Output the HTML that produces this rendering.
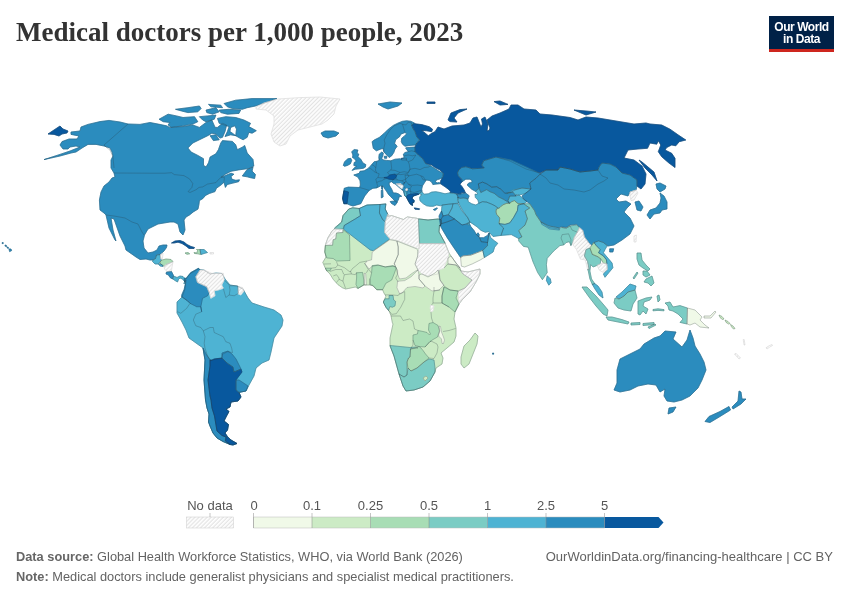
<!DOCTYPE html>
<html lang="en"><head><meta charset="utf-8"><title>Medical doctors per 1,000 people, 2023</title>
<style>
html,body{margin:0;padding:0;background:#fff;}
body{width:850px;height:600px;position:relative;overflow:hidden;font-family:"Liberation Sans",sans-serif;color:#5b5b5b;}
.title{position:absolute;left:16px;top:16px;margin:0;font-family:"Liberation Serif",serif;font-weight:bold;font-size:27px;line-height:32px;color:#333;letter-spacing:0px;white-space:nowrap;}
.logo{position:absolute;left:769px;top:16px;width:65px;height:36px;background:#002147;border-bottom:3px solid #ce261e;box-sizing:border-box;color:#fff;font-weight:bold;font-size:12px;line-height:12px;text-align:center;letter-spacing:-0.45px;padding-top:5px;}
.map{position:absolute;left:0;top:0;}
.legend{position:absolute;left:0;top:0;width:850px;height:600px;font-size:13px;color:#555;}
.legend span{position:absolute;top:498px;line-height:16px;white-space:nowrap;transform:translateX(-50%);}
.foot{position:absolute;left:16px;font-size:12.8px;line-height:16px;color:#636363;white-space:nowrap;}
.foot b{font-weight:bold;color:#666;}
</style></head><body>
<h1 class="title">Medical doctors per 1,000 people, 2023</h1>
<div class="logo">Our World<br>in Data</div>
<svg class="map" width="850" height="600" viewBox="0 0 850 600">
<defs><pattern id="h" width="2.87" height="60" patternUnits="userSpaceOnUse" patternTransform="rotate(45)"><rect width="2.87" height="60" fill="#fff"/><rect x="0.7" y="0" width="1.2" height="60" fill="#e3e3e3"/></pattern></defs>
<g stroke-linejoin="round">
<path d="M81.0,127.0L88.0,124.4L100.0,121.6L109.0,120.4L120.0,122.0L128.0,124.0L140.0,124.4L150.0,122.5L158.2,124.1L166.5,125.8L169.8,127.4L183.0,126.6L192.8,125.0L199.4,127.4L206.0,122.5L211.8,120.0L215.1,127.4L217.5,127.4L222.5,123.3L226.6,125.0L225.0,131.5L222.5,137.3L220.0,138.1L215.9,134.0L211.8,133.2L207.7,135.7L201.0,139.0L192.8,143.0L187.9,148.0L191.2,152.1L197.8,155.4L203.5,158.7L203.5,165.3L206.0,167.0L208.5,162.8L210.1,157.0L215.9,153.8L218.4,149.7L220.8,143.0L222.5,140.6L232.4,141.4L235.7,144.7L237.3,149.7L242.3,147.2L244.7,145.5L247.2,153.0L253.0,159.5L253.8,166.1L248.8,168.6L245.2,169.0L238.6,169.9L231.0,171.3L225.4,174.2L221.0,177.3L225.4,175.6L231.0,173.2L233.9,174.2L231.0,176.5L232.0,179.3L235.8,180.3L239.5,179.8L238.6,181.7L232.9,183.1L227.3,184.5L225.4,187.4L224.0,182.2L221.6,184.5L216.4,188.3L215.0,191.6L209.3,193.5L205.6,195.4L202.7,198.7L199.4,200.6L199.0,204.3L198.0,209.1L193.3,211.9L189.5,215.0L186.0,217.0L184.0,220.0L185.0,230.0L183.0,235.0L180.0,232.0L178.0,224.0L174.0,222.0L170.0,222.0L158.0,224.0L148.0,229.0L144.5,235.0L143.0,241.0L144.0,248.0L148.0,253.0L153.0,252.0L157.0,250.0L159.0,246.0L163.0,245.0L167.0,245.0L166.5,247.5L164.0,251.0L161.5,253.5L160.0,254.5L156.5,255.0L155.5,258.5L153.0,260.0L150.0,260.0L146.0,259.0L140.0,259.5L136.0,257.0L126.0,250.0L125.0,246.0L120.0,236.0L114.0,219.0L111.0,218.0L113.0,230.0L116.0,241.0L115.0,240.0L109.0,228.0L106.0,215.0L104.0,213.0L100.0,210.0L99.4,200.0L101.0,192.0L104.0,186.0L109.0,182.0L112.0,178.0L115.0,177.0L114.0,173.0L111.0,168.0L111.0,160.0L113.0,156.0L112.0,152.0L110.0,148.0L104.0,146.0L96.0,144.4L88.0,144.4L82.0,148.0L76.0,152.0L71.0,153.0L60.0,156.0L44.0,159.6L60.0,154.4L70.0,151.0L80.0,147.0L76.0,146.0L70.0,147.0L68.0,149.0L63.0,149.0L60.0,145.0L62.0,141.6L69.0,139.0L77.0,139.0L79.0,136.0L71.0,134.4L71.0,132.0L80.0,131.0Z" fill="#2b8cbe" stroke="#2b8cbe" stroke-width="0.7"/>
<path d="M159.1,119.2L168.1,114.2L176.4,115.9L183.0,117.5L194.5,116.7L197.8,121.7L192.8,124.1L183.0,125.8L171.4,127.4L168.1,125.0L169.8,122.5L163.2,121.7Z" fill="#2b8cbe" stroke="#2b8cbe" stroke-width="0.7"/>
<path d="M175.5,109.3L187.9,107.7L199.4,106.0L201.1,108.5L197.8,111.8L187.9,112.6L181.3,110.9Z" fill="#2b8cbe" stroke="#2b8cbe" stroke-width="0.7"/>
<path d="M206.0,110.1L215.9,107.7L219.2,111.8L212.6,114.2L206.8,112.6Z" fill="#2b8cbe" stroke="#2b8cbe" stroke-width="0.7"/>
<path d="M208.5,104.4L220.8,105.2L222.5,107.7L211.0,106.8Z" fill="#2b8cbe" stroke="#2b8cbe" stroke-width="0.7"/>
<path d="M199.4,116.7L207.7,115.9L215.9,115.1L214.3,119.2L206.0,121.7L202.7,120.0Z" fill="#2b8cbe" stroke="#2b8cbe" stroke-width="0.7"/>
<path d="M219.2,110.1L229.1,109.3L240.6,110.1L239.0,113.4L227.4,114.2L220.8,112.6Z" fill="#2b8cbe" stroke="#2b8cbe" stroke-width="0.7"/>
<path d="M224.1,103.5L235.7,100.2L252.1,98.6L276.9,98.6L265.3,102.7L255.4,106.0L247.2,107.7L242.3,109.3L232.4,108.5L227.4,106.8Z" fill="#2b8cbe" stroke="#2b8cbe" stroke-width="0.7"/>
<path d="M217.5,118.4L225.8,116.7L235.7,117.5L243.9,120.0L250.5,123.3L248.8,126.6L256.3,130.7L252.1,133.2L248.8,132.4L247.2,137.3L243.1,139.8L239.8,138.1L235.7,135.7L236.5,129.1L234.8,125.8L230.7,127.4L229.9,131.5L232.4,133.2L235.7,135.7L230.7,134.8L225.0,136.5L227.4,131.5L229.1,126.6L224.1,125.0L219.2,123.3Z" fill="#2b8cbe" stroke="#2b8cbe" stroke-width="0.7"/>
<path d="M210.1,135.7L215.9,134.8L219.2,139.8L213.4,140.6Z" fill="#2b8cbe" stroke="#2b8cbe" stroke-width="0.7"/>
<path d="M242.3,176.0L247.2,169.4L253.0,167.0L252.1,171.1L255.4,174.4L254.6,178.5L250.5,177.7L247.2,176.8Z" fill="#2b8cbe" stroke="#2b8cbe" stroke-width="0.7"/>
<path d="M256.0,107.0L264.0,103.0L278.0,99.0L300.0,97.6L320.0,97.0L340.0,99.0L336.0,106.0L334.0,114.0L328.0,120.0L322.0,124.0L310.0,127.0L298.0,130.0L290.0,136.0L286.0,144.0L280.0,146.0L274.0,142.0L271.0,134.0L274.0,124.0L274.0,116.0L266.0,110.0L256.0,109.0Z" fill="url(#h)" stroke="#fff" stroke-width="0.6"/>
<path d="M321.0,133.0L325.0,131.0L334.0,131.0L339.0,133.0L336.0,136.0L328.0,138.0L323.0,136.4Z" fill="#2b8cbe" stroke="#2b8cbe" stroke-width="0.7"/>
<path d="M48.0,134.0L60.0,126.0L63.0,129.0L68.0,131.0L67.0,133.0L62.0,134.0L59.0,136.0L54.0,134.4Z" fill="#08589e" stroke="#08589e" stroke-width="0.7"/>
<path d="M9.0,249.0L11.0,249.0L11.6,250.6L9.6,251.6Z" fill="#2b8cbe" stroke="#2b8cbe" stroke-width="0.7"/>
<path d="M156.5,255.0L160.0,254.5L160.5,258.5L161.5,260.0L160.0,262.0L158.5,264.0L155.0,264.0L152.5,261.5L153.0,260.0L155.5,258.5Z" fill="#4eb3d3" stroke="#4eb3d3" stroke-width="0.7"/>
<path d="M160.5,254.5L163.0,253.0L162.5,258.5L160.8,259.0Z" fill="url(#h)" stroke="#fff" stroke-width="0.6"/>
<path d="M160.0,262.0L162.0,260.0L166.0,259.0L171.0,259.5L173.0,261.5L170.0,263.0L166.0,264.5L164.0,266.5L162.5,265.0L160.5,264.0Z" fill="#a8ddb5" stroke="#a8ddb5" stroke-width="0.7"/>
<path d="M158.5,264.0L160.5,264.0L162.5,265.0L163.0,266.5L160.0,266.0Z" fill="#4eb3d3" stroke="#4eb3d3" stroke-width="0.7"/>
<path d="M164.0,266.5L166.0,264.5L170.0,263.0L173.0,262.0L172.0,267.0L171.5,271.0L167.0,271.5L164.5,269.0Z" fill="url(#h)" stroke="#fff" stroke-width="0.6"/>
<path d="M166.5,272.0L171.5,271.5L173.5,275.5L172.5,279.0L170.0,277.5L168.5,275.0L166.0,274.0Z" fill="#2b8cbe" stroke="#2b8cbe" stroke-width="0.7"/>
<path d="M173.5,276.0L177.0,277.5L180.0,276.0L183.0,276.5L185.0,278.5L184.5,281.5L182.5,279.0L180.0,278.0L178.5,279.5L177.5,282.0L175.0,280.5L172.8,279.0Z" fill="#4eb3d3" stroke="#4eb3d3" stroke-width="0.7"/>
<path d="M171.5,243.0L175.0,241.0L180.0,240.5L184.0,242.0L187.0,244.5L191.0,246.5L194.5,247.5L194.0,248.5L189.0,248.5L186.0,246.0L182.0,243.5L178.0,242.2L174.0,243.0Z" fill="#08589e" stroke="#08589e" stroke-width="0.7"/>
<path d="M185.0,253.0L188.0,252.5L189.7,253.8L187.0,254.3Z" fill="#a8ddb5" stroke="#a8ddb5" stroke-width="0.7"/>
<path d="M194.0,252.5L197.0,253.0L197.5,250.5L196.5,249.5L200.0,249.5L200.5,254.5L198.0,253.8L194.5,253.5Z" fill="#a8ddb5" stroke="#a8ddb5" stroke-width="0.7"/>
<path d="M200.0,249.5L204.0,249.5L207.5,252.5L204.0,253.5L201.0,254.5Z" fill="#4eb3d3" stroke="#4eb3d3" stroke-width="0.7"/>
<path d="M210.0,252.5L213.5,252.5L213.5,254.0L210.0,254.0Z" fill="url(#h)" stroke="#fff" stroke-width="0.6"/>
<path d="M184.5,281.5L187.0,277.0L190.0,273.5L194.0,271.5L199.0,268.5L200.0,269.5L204.0,270.0L210.0,274.0L216.0,273.0L222.0,273.5L225.0,279.0L230.0,285.0L237.0,286.0L243.0,289.0L248.0,298.0L252.0,303.0L264.0,307.0L274.0,310.0L281.0,315.0L283.0,320.0L282.0,326.0L274.0,338.0L271.0,352.0L269.0,360.0L262.0,363.0L256.0,368.0L254.0,376.0L249.0,385.0L246.0,391.0L239.0,392.4L241.0,397.0L238.0,401.0L231.0,402.0L230.0,407.0L226.0,409.0L229.0,411.5L226.5,416.0L224.0,421.0L228.5,424.5L227.5,430.0L225.0,433.0L227.0,436.0L231.0,440.0L237.0,443.5L233.0,445.0L230.0,444.5L223.0,441.5L217.0,438.0L213.0,433.0L210.0,426.0L208.5,422.0L209.0,414.0L207.0,408.0L205.5,400.0L204.0,380.0L205.0,360.0L203.0,348.0L189.0,338.0L186.0,330.0L182.0,322.0L177.0,313.0L177.0,302.0L182.0,297.0L185.0,289.0L186.0,280.0L184.0,284.0Z" fill="#4eb3d3" stroke="#4eb3d3" stroke-width="0.7"/>
<path d="M184.5,281.5L184.2,278.3L186.7,278.3L190.8,272.5L198.3,268.3L200.0,270.0L195.8,276.7L197.5,282.5L206.7,286.7L209.2,292.5L207.5,295.8L202.5,298.3L200.8,306.7L201.7,311.7L200.8,306.7L196.7,306.7L190.0,303.3L187.5,300.8L181.7,296.7L181.7,295.0L184.2,289.2L185.8,281.7Z" fill="#2b8cbe" stroke="#2b8cbe" stroke-width="0.7"/>
<path d="M200.0,270.0L204.2,270.0L211.7,273.3L220.0,273.3L223.3,273.3L224.2,280.0L221.7,285.0L223.3,288.3L218.3,290.0L214.2,290.8L215.0,295.8L210.8,298.3L209.2,292.5L206.7,286.7L197.5,282.5L195.8,276.7Z" fill="url(#h)" stroke="#fff" stroke-width="0.6"/>
<path d="M238.3,286.7L242.5,287.5L244.2,290.8L240.8,295.0L238.3,294.0Z" fill="url(#h)" stroke="#fff" stroke-width="0.6"/>
<path d="M203.0,348.0L206.0,354.0L210.0,360.0L210.0,366.0L208.0,380.0L210.0,396.0L211.0,400.0L212.0,408.0L214.5,416.0L216.0,425.0L217.0,431.0L222.0,435.5L226.0,437.0L225.0,441.0L230.0,444.5L223.0,441.5L217.0,438.0L213.0,433.0L210.0,426.0L208.5,422.0L209.0,414.0L207.0,408.0L205.5,400.0L204.0,380.0L205.0,360.0Z" fill="#2b8cbe" stroke="#2b8cbe" stroke-width="0.7"/>
<path d="M212.0,360.0L214.0,359.0L222.0,358.0L227.0,363.0L233.0,367.0L234.0,372.0L241.0,369.0L242.0,372.0L236.0,380.0L236.0,390.0L239.0,392.4L241.0,397.0L238.0,401.0L231.0,402.0L230.0,407.0L226.0,409.0L229.0,411.5L226.5,416.0L224.0,421.0L228.5,424.5L227.5,430.0L225.0,433.0L227.0,436.0L226.0,437.0L222.0,435.5L217.0,431.0L216.0,425.0L214.5,416.0L212.0,408.0L211.0,400.0L210.0,396.0L208.0,380.0L210.0,366.0L210.0,360.0Z" fill="#08589e" stroke="#08589e" stroke-width="0.7"/>
<path d="M226.0,437.5L227.0,436.5L231.0,440.0L237.0,443.5L233.0,445.0L230.0,444.5L225.5,441.0Z" fill="#08589e" stroke="#08589e" stroke-width="0.7"/>
<path d="M222.0,353.0L228.0,351.0L232.0,354.0L236.0,359.0L241.0,369.0L234.0,372.0L233.0,367.0L227.0,363.0L222.0,358.0Z" fill="#2b8cbe" stroke="#2b8cbe" stroke-width="0.7"/>
<path d="M236.0,380.0L239.0,380.0L248.0,386.0L246.0,391.0L239.0,392.4L236.0,390.0Z" fill="#2b8cbe" stroke="#2b8cbe" stroke-width="0.7"/>
<path d="M334.5,228.9L341.7,222.0L343.0,215.6L348.8,209.0L352.7,207.8L359.2,208.5L367.0,205.0L380.0,204.5L385.9,203.9L385.2,209.0L387.8,214.3L387.8,216.3L391.7,215.6L403.4,219.5L407.3,216.9L416.4,218.2L418.4,218.9L428.0,220.0L438.0,219.0L441.0,219.5L440.5,226.0L439.5,225.0L439.0,232.0L445.0,243.0L449.0,253.0L451.0,256.0L456.0,263.0L460.0,268.0L461.0,271.0L468.0,272.0L480.0,269.0L480.0,274.0L476.0,282.0L470.0,292.0L462.0,300.0L459.0,304.0L455.0,312.0L454.0,319.0L456.0,328.0L456.0,336.0L454.0,342.0L447.0,348.0L441.0,353.0L443.0,358.0L442.0,364.0L436.0,368.0L435.0,372.0L430.0,381.0L423.0,387.0L414.0,390.0L406.0,391.0L403.0,386.0L399.0,374.0L394.0,356.0L390.0,346.0L390.0,338.0L393.0,324.0L392.4,322.8L391.0,315.7L389.1,311.0L385.9,307.2L383.3,302.0L385.9,296.2L383.9,292.9L382.6,289.7L376.8,289.7L372.9,285.8L369.6,285.0L363.8,285.0L357.9,288.4L355.3,287.0L348.8,288.4L345.6,289.0L342.3,287.7L337.8,284.5L333.2,279.3L330.0,274.0L326.7,270.8L324.8,267.0L322.8,262.4L326.0,257.0L324.8,252.0L325.4,244.9L328.0,237.7L331.9,231.2Z" fill="#ccebc5" stroke="#ccebc5" stroke-width="0.7"/>
<path d="M334.5,228.0L341.7,222.0L343.0,215.6L348.8,209.0L352.7,207.8L359.2,208.5L360.5,215.6L355.3,218.9L350.0,222.0L344.3,225.4L343.0,229.0L334.5,228.9Z" fill="#7bccc4" stroke="#7bccc4" stroke-width="0.7"/>
<path d="M359.2,208.5L367.0,205.0L380.0,204.5L379.4,213.0L382.6,219.5L385.2,222.0L384.6,232.5L389.8,239.0L382.6,244.2L373.5,250.7L370.3,250.0L343.6,229.3L344.3,225.4L350.0,222.0L355.3,218.9L360.5,215.6Z" fill="#4eb3d3" stroke="#4eb3d3" stroke-width="0.7"/>
<path d="M380.0,204.5L385.9,203.9L385.2,209.0L387.8,214.3L385.2,221.5L382.6,219.5L379.4,213.0Z" fill="#4eb3d3" stroke="#4eb3d3" stroke-width="0.7"/>
<path d="M387.8,216.3L391.7,215.6L403.4,219.5L407.3,216.9L416.4,218.2L418.4,218.9L419.0,248.8L416.4,248.0L396.9,240.3L389.8,239.0L384.6,232.5L385.2,222.0L387.8,214.3Z" fill="url(#h)" stroke="#fff" stroke-width="0.6"/>
<path d="M418.4,218.9L428.0,220.0L438.0,219.0L441.0,219.5L440.5,226.0L439.5,225.0L439.0,232.0L445.0,243.0L445.0,243.6L419.7,243.6Z" fill="#7bccc4" stroke="#7bccc4" stroke-width="0.7"/>
<path d="M419.7,243.6L445.0,243.6L449.0,253.0L448.0,258.0L444.0,268.0L439.0,270.0L438.0,274.0L428.0,276.0L422.0,274.0L418.0,270.0L415.0,264.0L417.7,256.0L419.0,248.8Z" fill="url(#h)" stroke="#fff" stroke-width="0.6"/>
<path d="M334.5,228.9L343.0,229.6L343.0,232.5L336.5,233.0L335.8,239.0L333.2,239.7L332.6,244.9L325.4,244.9L328.0,237.7L331.9,231.2Z" fill="url(#h)" stroke="#fff" stroke-width="0.6"/>
<path d="M325.4,245.5L332.6,245.3L333.2,239.7L335.8,239.0L336.5,233.0L343.0,232.5L343.0,229.6L349.5,235.0L350.0,260.5L336.5,261.0L333.2,258.5L326.7,257.9L324.8,252.0Z" fill="#a8ddb5" stroke="#a8ddb5" stroke-width="0.7"/>
<path d="M372.2,252.0L373.5,251.0L389.8,239.7L396.9,241.0L398.2,246.8L398.2,254.6L394.3,263.7L395.6,267.0L393.0,266.3L385.2,267.0L378.7,265.0L372.2,266.3L369.0,269.0L365.0,263.7L367.0,261.0L371.6,259.8Z" fill="#f0f9e8" stroke="#f0f9e8" stroke-width="0.7"/>
<path d="M396.9,241.0L416.4,248.8L417.7,250.0L417.7,256.0L415.0,264.0L418.0,270.0L415.8,270.9L411.2,274.0L406.0,278.0L399.5,279.0L397.6,274.0L397.6,270.2L395.6,267.0L394.3,263.7L398.2,254.6L398.2,246.8Z" fill="#f0f9e8" stroke="#f0f9e8" stroke-width="0.7"/>
<path d="M372.2,265.6L377.4,265.0L385.2,266.9L393.0,265.6L396.3,267.6L394.3,273.4L391.7,280.0L385.9,283.2L382.6,289.7L376.8,289.7L372.9,285.4L370.3,284.5L370.3,278.6L371.6,272.8Z" fill="#a8ddb5" stroke="#a8ddb5" stroke-width="0.7"/>
<path d="M356.6,272.8L362.5,272.4L363.8,280.0L363.8,284.9L357.9,288.4L356.0,284.5L356.6,278.0Z" fill="#a8ddb5" stroke="#a8ddb5" stroke-width="0.7"/>
<path d="M364.2,273.4L365.7,273.4L366.4,284.9L364.4,284.9Z" fill="#f0f9e8" stroke="#f0f9e8" stroke-width="0.7"/>
<path d="M325.4,268.2L331.3,268.2L330.0,270.8L326.7,270.8Z" fill="#a8ddb5" stroke="#a8ddb5" stroke-width="0.7"/>
<path d="M397.6,281.2L404.7,280.6L411.2,276.7L415.1,272.8L418.0,270.0L419.0,275.0L419.0,279.0L425.0,286.0L423.0,288.0L415.0,286.5L407.0,287.5L402.1,292.9L399.5,293.6L396.9,287.7Z" fill="#f0f9e8" stroke="#f0f9e8" stroke-width="0.7"/>
<path d="M419.0,275.0L422.0,274.0L428.0,277.0L435.0,273.0L438.0,270.0L440.0,280.0L444.0,285.0L439.0,290.0L432.0,291.0L425.0,286.0L419.0,279.0Z" fill="#f0f9e8" stroke="#f0f9e8" stroke-width="0.7"/>
<path d="M448.0,258.0L451.0,256.0L456.0,263.0L460.0,268.0L456.0,265.0L448.0,264.0Z" fill="#f0f9e8" stroke="#f0f9e8" stroke-width="0.7"/>
<path d="M463.0,274.0L461.0,271.0L468.0,272.0L480.0,269.0L480.0,274.0L476.0,282.0L470.0,292.0L462.0,300.0L459.0,304.0L458.0,292.0L465.0,288.0L472.0,280.0Z" fill="url(#h)" stroke="#fff" stroke-width="0.6"/>
<path d="M444.0,287.0L450.0,290.0L458.0,291.0L458.0,292.0L456.0,298.0L459.0,304.0L455.0,312.0L449.0,307.0L442.0,303.0L442.0,296.0Z" fill="#a8ddb5" stroke="#a8ddb5" stroke-width="0.7"/>
<path d="M385.2,298.8L389.1,298.8L389.1,295.5L393.0,295.5L393.7,300.0L395.6,301.4L395.0,305.9L392.4,307.2L389.8,306.6L388.5,310.5L385.9,307.2L383.3,302.0Z" fill="#7bccc4" stroke="#7bccc4" stroke-width="0.7"/>
<path d="M390.0,345.5L410.0,347.5L416.0,347.0L418.0,348.0L410.5,349.0L410.0,357.0L408.5,358.0L407.0,362.0L407.0,375.0L404.0,377.0L399.0,374.0L394.0,356.0Z" fill="#7bccc4" stroke="#7bccc4" stroke-width="0.7"/>
<path d="M399.0,374.0L404.0,377.0L407.0,375.0L408.0,368.0L411.0,371.0L417.0,368.0L424.0,362.0L429.0,359.0L434.0,360.0L435.0,368.0L435.0,372.0L430.0,381.0L423.0,387.0L414.0,390.0L406.0,391.0L403.0,386.0Z" fill="#7bccc4" stroke="#7bccc4" stroke-width="0.7"/>
<path d="M423.0,378.0L426.0,376.0L428.0,378.0L425.0,381.0Z" fill="#ccebc5" stroke="#ccebc5" stroke-width="0.7"/>
<path d="M410.5,349.0L416.0,347.5L419.0,346.5L421.0,348.0L423.0,350.5L425.5,354.0L429.0,358.0L424.0,362.0L417.0,368.0L411.0,371.0L408.0,368.0L407.0,362.0L408.5,358.0L410.0,357.0Z" fill="#a8ddb5" stroke="#a8ddb5" stroke-width="0.7"/>
<path d="M413.0,335.0L417.5,334.0L418.0,330.5L423.0,331.5L427.0,332.5L429.5,335.0L430.5,334.0L428.5,330.0L429.0,323.5L433.0,322.5L438.0,325.5L439.5,331.0L437.5,337.0L433.0,339.5L430.0,341.5L425.0,347.0L419.0,346.5L415.0,345.5L413.0,340.0Z" fill="#a8ddb5" stroke="#a8ddb5" stroke-width="0.7"/>
<path d="M439.0,326.0L440.5,326.5L441.5,332.0L443.5,337.0L444.5,340.0L443.5,343.5L442.0,343.5L441.5,339.0L439.0,336.5L438.5,335.0L439.8,331.0Z" fill="#f0f9e8" stroke="#f0f9e8" stroke-width="0.7"/>
<path d="M475.0,333.0L478.0,336.0L477.0,344.0L473.0,354.0L469.0,364.0L464.0,368.0L461.0,364.0L461.0,357.0L464.0,346.0L470.0,340.0Z" fill="#ccebc5" stroke="#ccebc5" stroke-width="0.7"/>
<path d="M430.5,305.0L434.0,306.0L433.0,311.0L431.0,312.0L430.3,308.5Z" fill="url(#h)" stroke="#fff" stroke-width="0.6"/>
<path d="M414.2,122.9L415.0,123.8L421.7,124.6L429.2,126.7L432.5,129.2L431.7,131.7L426.7,130.8L421.7,130.4L425.0,132.9L428.3,135.8L431.7,133.3L435.0,131.7L438.0,127.0L444.0,129.0L452.0,126.0L464.0,125.0L470.0,123.0L473.0,118.0L477.0,117.0L479.0,122.0L481.0,127.0L482.5,124.0L481.5,119.0L485.0,117.0L488.0,124.0L487.0,131.0L489.0,130.5L490.0,128.0L487.0,120.0L492.0,116.0L500.0,113.0L509.0,109.0L511.0,105.0L518.0,105.0L524.0,109.0L536.0,110.0L540.0,114.0L552.0,115.0L570.0,117.5L578.0,120.0L586.0,117.0L598.0,118.0L610.0,120.0L622.0,122.0L634.0,124.0L646.0,123.0L650.0,124.0L661.7,125.0L670.0,129.2L678.3,135.0L685.8,140.0L679.2,141.7L675.8,145.8L671.7,145.0L666.7,147.5L665.0,150.0L671.7,153.3L675.0,158.3L675.0,167.5L668.3,162.5L661.7,156.7L658.3,151.7L660.8,145.0L658.3,140.8L656.7,144.2L650.0,143.0L647.5,148.3L638.0,149.0L628.0,150.0L624.0,158.0L634.0,160.0L642.0,166.0L646.0,174.0L645.0,184.0L641.0,189.0L637.0,186.0L637.0,180.0L630.0,175.0L622.0,173.0L616.0,167.0L610.0,164.0L602.0,163.0L599.0,167.0L598.0,170.0L590.0,171.0L580.0,172.0L570.0,169.0L560.0,167.0L558.0,170.0L546.0,170.0L540.0,173.0L526.0,169.0L518.0,165.0L510.0,161.0L496.0,157.0L483.7,160.7L481.7,165.0L484.2,167.9L480.8,168.3L472.5,168.8L465.8,166.7L461.7,167.5L458.8,170.0L457.5,172.9L458.3,175.8L461.7,179.2L462.1,181.7L460.0,184.2L462.1,186.7L464.2,190.0L465.4,192.9L461.7,192.5L460.8,194.2L456.7,193.8L453.3,192.9L450.0,192.9L450.4,191.3L448.3,189.2L445.0,186.7L441.7,184.6L440.3,183.6L440.8,180.4L442.5,178.3L441.7,178.3L442.9,176.7L443.3,173.3L440.0,170.0L435.0,167.5L431.7,165.0L425.5,163.4L422.5,158.3L418.3,155.0L415.0,151.7L415.0,147.1L415.8,145.0L416.7,142.9L419.6,140.0L416.7,136.7L415.0,131.7L412.9,128.3L411.7,125.4Z" fill="#08589e" stroke="#08589e" stroke-width="0.7"/>
<path d="M448.0,120.0L451.0,113.0L460.0,109.6L467.0,109.0L458.0,113.0L454.0,118.0L457.0,122.0L450.0,121.6Z" fill="#08589e" stroke="#08589e" stroke-width="0.7"/>
<path d="M427.0,102.0L435.0,102.0L435.0,103.5L427.0,103.5Z" fill="#08589e" stroke="#08589e" stroke-width="0.7"/>
<path d="M494.0,101.6L500.0,101.0L508.0,104.4L500.0,105.0Z" fill="#08589e" stroke="#08589e" stroke-width="0.7"/>
<path d="M574.0,110.0L586.0,111.0L596.0,112.0L586.0,115.0Z" fill="#08589e" stroke="#08589e" stroke-width="0.7"/>
<path d="M639.0,160.0L642.0,162.0L654.0,172.0L657.0,181.0L652.0,175.0L645.0,168.0Z" fill="#08589e" stroke="#08589e" stroke-width="0.7"/>
<path d="M401.5,158.2L406.5,158.2L406.5,160.0L401.5,160.0Z" fill="#08589e" stroke="#08589e" stroke-width="0.7"/>
<path d="M384.2,156.3L386.7,156.3L386.7,158.3L384.5,158.3Z" fill="#2b8cbe" stroke="#2b8cbe" stroke-width="0.7"/>
<path d="M378.0,104.0L390.0,102.0L402.0,103.0L398.0,106.0L388.0,109.0L383.0,107.0Z" fill="#2b8cbe" stroke="#2b8cbe" stroke-width="0.7"/>
<path d="M414.2,122.9L411.7,125.4L412.9,128.3L415.0,131.7L416.7,136.7L419.6,140.0L416.7,142.9L415.8,145.0L410.0,145.4L405.0,146.3L402.5,144.2L401.3,141.7L401.7,138.3L404.2,136.3L406.7,133.8L405.0,132.5L400.8,134.2L399.6,136.7L395.8,139.6L394.6,143.3L397.1,146.3L395.0,149.2L393.8,152.5L391.7,155.8L389.2,157.5L386.7,155.0L383.8,151.7L382.9,148.3L380.4,149.2L376.3,150.8L373.3,148.3L372.1,141.7L374.2,140.0L379.2,137.5L384.2,133.3L388.3,129.2L393.3,125.4L398.3,122.9L402.5,121.3L406.7,120.8L410.8,121.3Z" fill="#2b8cbe" stroke="#2b8cbe" stroke-width="0.7"/>
<path d="M415.0,147.1L415.0,151.7L418.3,155.0L422.5,158.3L425.5,163.4L431.0,166.0L438.8,171.0L443.3,173.3L442.9,176.7L441.7,178.3L440.4,178.8L437.5,179.6L435.0,181.3L437.1,182.9L439.2,182.5L440.3,183.6L439.2,183.8L435.0,184.2L432.9,184.6L431.7,182.1L429.2,180.4L426.3,180.0L424.6,182.5L422.5,185.8L421.7,189.2L422.1,191.5L420.0,192.5L419.2,193.8L418.8,194.2L415.0,195.4L412.9,196.3L412.1,198.3L414.2,200.8L413.8,202.5L412.1,202.9L412.5,205.4L410.4,204.2L408.8,201.7L407.5,199.2L406.3,197.1L404.6,195.4L403.3,190.8L399.2,187.5L395.0,183.8L393.3,183.3L391.7,181.7L389.2,182.5L389.2,185.0L391.7,189.2L393.3,192.9L396.0,193.0L398.3,193.8L401.7,196.3L399.2,196.7L398.3,200.0L396.3,202.5L395.0,201.0L392.5,198.5L390.5,196.5L388.5,194.5L386.8,191.7L384.4,188.3L383.3,186.3L380.8,185.8L376.7,187.9L372.9,188.3L369.2,190.4L364.7,196.0L360.8,203.7L353.0,206.0L349.8,205.0L347.0,203.7L343.9,203.7L342.6,198.5L343.9,190.7L344.2,188.3L348.3,187.1L359.6,187.5L360.4,185.0L360.0,180.8L357.9,177.1L353.8,175.0L359.2,173.3L360.0,171.3L364.2,170.8L367.5,168.8L368.8,167.9L371.7,164.6L374.2,161.7L376.7,161.3L379.2,160.4L378.8,157.5L379.2,154.2L381.7,152.1L383.3,152.9L382.9,155.8L381.7,158.3L383.3,160.0L386.7,160.4L390.8,160.8L395.0,159.2L400.0,158.8L401.7,159.2L404.2,157.5L403.3,154.2L405.0,152.5L408.3,151.7L405.8,148.3L405.8,147.8L410.0,147.3Z" fill="#2b8cbe" stroke="#2b8cbe" stroke-width="0.7"/>
<path d="M351.7,151.7L354.2,149.6L357.9,150.0L357.1,152.9L358.8,154.2L357.9,156.7L360.8,159.2L362.9,162.9L365.8,164.6L365.4,167.1L363.3,168.3L359.2,168.8L355.4,169.2L352.1,170.4L354.6,167.5L356.7,166.3L353.8,165.4L354.2,162.5L356.3,161.3L354.6,158.8L352.5,157.5L352.9,155.0Z" fill="#2b8cbe" stroke="#2b8cbe" stroke-width="0.7"/>
<path d="M343.3,165.4L344.6,161.7L347.9,158.8L350.8,158.3L351.7,160.4L350.4,163.8L347.5,165.4L344.6,166.3Z" fill="#2b8cbe" stroke="#2b8cbe" stroke-width="0.7"/>
<path d="M390.2,201.5L396.5,200.8L397.5,202.0L395.0,205.5L391.5,203.5Z" fill="#2b8cbe" stroke="#2b8cbe" stroke-width="0.7"/>
<path d="M381.3,190.4L382.7,189.6L383.1,197.0L381.3,197.9Z" fill="#2b8cbe" stroke="#2b8cbe" stroke-width="0.7"/>
<path d="M381.6,186.0L382.6,186.0L382.6,189.0L381.6,189.0Z" fill="#2b8cbe" stroke="#2b8cbe" stroke-width="0.7"/>
<path d="M343.9,190.7L348.5,192.0L347.0,203.7L343.9,203.7L342.6,198.5Z" fill="#08589e" stroke="#08589e" stroke-width="0.7"/>
<path d="M384.2,177.5L387.5,177.1L389.6,175.0L394.2,174.2L396.7,175.4L395.8,177.9L393.3,179.6L389.2,179.2L386.7,178.3Z" fill="#08589e" stroke="#08589e" stroke-width="0.7"/>
<path d="M406.3,197.1L407.5,195.0L410.8,194.2L414.2,193.8L417.1,193.3L418.8,194.2L415.0,195.4L412.9,196.3L412.1,198.3L414.2,200.8L413.8,202.5L412.1,202.9L412.5,205.4L410.4,204.2L408.8,201.7L407.5,199.2Z" fill="#08589e" stroke="#08589e" stroke-width="0.7"/>
<path d="M414.2,207.9L416.7,208.3L419.6,208.8L419.2,209.6L415.0,209.2Z" fill="#08589e" stroke="#08589e" stroke-width="0.7"/>
<path d="M404.2,190.8L405.8,191.3L406.7,194.2L405.8,196.7L404.6,195.4Z" fill="#4eb3d3" stroke="#4eb3d3" stroke-width="0.7"/>
<path d="M405.8,188.8L407.5,188.8L407.5,190.4L405.8,190.4Z" fill="url(#h)" stroke="#fff" stroke-width="0.6"/>
<path d="M396.3,183.8L400.8,183.8L403.3,185.8L402.1,188.8L400.0,187.5Z" fill="url(#h)" stroke="#fff" stroke-width="0.6"/>
<path d="M419.2,193.8L420.0,192.5L422.1,191.7L423.8,194.2L428.3,193.8L431.7,192.1L435.8,191.7L440.0,192.5L445.0,193.8L449.6,192.9L453.3,193.3L456.7,194.2L458.3,197.5L457.5,200.8L458.8,202.9L453.3,203.8L448.3,204.2L442.5,205.0L440.4,205.8L436.7,205.0L433.3,206.3L430.0,206.3L426.7,205.8L423.3,203.8L420.0,200.8L419.6,197.5L420.8,195.4L421.7,194.6Z" fill="#4eb3d3" stroke="#4eb3d3" stroke-width="0.7"/>
<path d="M433.3,209.6L436.7,207.9L437.5,208.3L435.0,210.4Z" fill="#2b8cbe" stroke="#2b8cbe" stroke-width="0.7"/>
<path d="M456.7,194.2L458.3,194.2L461.7,193.8L464.2,193.3L465.4,192.9L466.7,193.8L469.2,195.8L467.9,199.2L465.8,198.3L463.3,197.9L460.4,198.3L457.5,197.5L458.3,197.5Z" fill="#2b8cbe" stroke="#2b8cbe" stroke-width="0.7"/>
<path d="M442.0,205.0L453.0,203.7L452.0,208.0L448.4,214.4L443.0,216.0L441.5,211.0Z" fill="#4eb3d3" stroke="#4eb3d3" stroke-width="0.7"/>
<path d="M453.0,203.7L458.0,203.7L462.0,211.0L467.6,217.5L469.9,222.0L466.8,223.6L462.0,225.0L454.5,219.0L448.4,215.0L452.0,208.0Z" fill="#4eb3d3" stroke="#4eb3d3" stroke-width="0.7"/>
<path d="M443.0,216.0L448.4,215.0L454.5,219.0L446.9,222.0L441.5,223.6L441.0,219.5Z" fill="#2b8cbe" stroke="#2b8cbe" stroke-width="0.7"/>
<path d="M439.0,216.0L441.5,211.0L443.0,216.0L441.0,219.5L441.5,223.6L440.5,226.0L439.8,221.0Z" fill="#2b8cbe" stroke="#2b8cbe" stroke-width="0.7"/>
<path d="M441.5,223.6L446.9,222.0L454.5,219.0L462.0,225.0L467.0,224.0L469.3,223.5L470.9,226.7L474.1,230.6L476.4,234.6L479.6,237.7L481.2,241.7L487.5,242.5L487.5,245.6L482.8,250.4L478.8,252.0L470.9,255.1L463.0,255.9L460.6,257.5L453.5,247.2L447.2,237.7L441.6,228.2L440.0,225.1Z" fill="#2b8cbe" stroke="#2b8cbe" stroke-width="0.7"/>
<path d="M466.8,223.6L469.9,222.0L470.1,222.2L469.3,223.5L468.5,225.5L467.0,224.0Z" fill="#4eb3d3" stroke="#4eb3d3" stroke-width="0.7"/>
<path d="M460.6,257.5L463.0,255.9L470.9,255.1L478.8,252.0L482.8,250.4L484.4,257.5L480.4,259.9L472.5,263.8L464.6,267.0L461.4,266.2Z" fill="#f0f9e8" stroke="#f0f9e8" stroke-width="0.7"/>
<path d="M489.1,233.0L490.7,237.7L494.6,240.9L497.8,243.3L494.6,247.2L493.1,252.0L488.3,255.1L484.4,257.5L482.8,250.4L487.5,245.6L487.5,242.5L488.3,237.7Z" fill="#4eb3d3" stroke="#4eb3d3" stroke-width="0.7"/>
<path d="M479.6,237.7L483.6,237.7L487.5,235.4L489.1,233.0L488.3,237.7L487.5,242.5L481.2,241.7Z" fill="#2b8cbe" stroke="#2b8cbe" stroke-width="0.7"/>
<path d="M476.4,234.6L478.0,232.8L479.2,234.6L479.0,237.0Z" fill="#2b8cbe" stroke="#2b8cbe" stroke-width="0.7"/>
<path d="M457.5,197.5L460.4,198.3L463.3,197.9L465.8,198.3L467.9,199.2L468.3,201.7L471.7,203.8L475.8,205.0L478.8,203.3L482.5,201.7L486.7,202.1L491.7,204.2L495.0,205.8L498.3,208.3L496.3,209.2L496.0,212.0L496.7,214.4L499.8,218.0L499.0,223.6L503.6,228.0L501.0,235.4L493.1,236.5L489.9,233.0L488.3,231.7L485.3,232.3L481.0,230.4L477.0,226.8L472.8,223.9L470.1,222.2L469.9,222.0L467.6,217.5L463.0,211.0L459.0,203.7L458.8,202.9Z" fill="#4eb3d3" stroke="#4eb3d3" stroke-width="0.7"/>
<path d="M457.5,172.9L458.8,170.0L461.7,167.5L465.8,166.7L472.5,168.8L480.8,168.3L484.2,167.9L481.7,165.0L483.7,160.7L496.0,157.0L511.0,160.0L522.0,165.0L537.0,172.0L540.4,173.8L535.8,178.4L529.7,183.0L531.0,189.0L522.0,188.0L515.0,190.0L510.8,192.5L505.0,193.3L500.8,189.2L496.7,186.7L491.7,187.1L486.7,183.8L482.5,182.1L478.3,183.8L479.2,188.3L475.4,191.3L471.7,189.2L467.1,185.0L468.8,182.9L471.7,182.5L472.1,180.8L470.0,179.2L465.8,179.2L462.1,181.7L461.7,179.2L458.3,175.8Z" fill="#2b8cbe" stroke="#2b8cbe" stroke-width="0.7"/>
<path d="M478.3,183.8L482.5,182.1L486.7,183.8L491.7,187.1L496.7,186.7L500.8,189.2L505.0,193.3L510.8,192.5L512.8,192.0L516.0,196.0L509.8,196.0L508.0,200.6L509.6,203.3L507.5,201.7L503.3,199.2L498.3,196.7L494.2,193.3L490.0,191.7L486.7,189.6L484.2,190.8L480.8,192.5L479.2,188.3Z" fill="#2b8cbe" stroke="#2b8cbe" stroke-width="0.7"/>
<path d="M475.4,191.3L479.2,188.3L480.8,192.5L484.2,190.8L486.7,189.6L490.0,191.7L494.2,193.3L498.3,196.7L503.3,199.2L507.5,201.7L509.6,203.3L506.7,203.3L502.5,205.0L500.0,207.5L498.3,208.3L495.0,205.8L491.7,204.2L486.7,202.1L482.5,201.7L478.8,203.3L477.9,200.0L475.4,197.5L475.0,194.2L477.1,194.6L477.5,192.9Z" fill="#4eb3d3" stroke="#4eb3d3" stroke-width="0.7"/>
<path d="M512.8,190.0L522.0,188.0L531.0,189.0L525.0,193.7L519.0,195.0L516.0,194.5L516.0,196.0L512.8,192.0L506.7,193.7Z" fill="#4eb3d3" stroke="#4eb3d3" stroke-width="0.7"/>
<path d="M509.8,196.0L516.0,196.0L519.0,195.0L523.5,199.0L527.0,201.5L524.0,203.7L518.0,203.7L514.4,200.6L511.7,201.7L509.6,203.3L508.0,200.6Z" fill="#4eb3d3" stroke="#4eb3d3" stroke-width="0.7"/>
<path d="M496.3,209.2L498.3,208.3L500.0,207.5L502.5,205.0L506.7,203.3L509.6,203.3L511.7,201.7L514.4,200.6L518.0,203.7L523.5,203.7L518.0,205.2L517.4,210.6L513.6,217.5L509.8,222.9L505.0,224.4L499.0,223.6L499.8,218.0L496.7,214.4L496.0,212.0Z" fill="#a8ddb5" stroke="#a8ddb5" stroke-width="0.7"/>
<path d="M503.6,228.0L499.0,223.6L505.0,224.4L509.8,222.9L513.6,217.5L517.4,210.6L518.0,205.2L523.5,203.7L529.7,208.0L525.0,211.0L527.4,218.7L525.0,225.1L518.7,230.6L521.9,236.9L518.7,238.5L511.3,234.6L501.0,235.4Z" fill="#4eb3d3" stroke="#4eb3d3" stroke-width="0.7"/>
<path d="M540.4,173.8L546.0,170.0L558.0,170.0L560.0,167.0L570.0,169.0L580.0,172.0L590.0,171.0L598.0,170.0L599.0,167.0L602.0,163.0L610.0,164.0L616.0,167.0L622.0,173.0L630.0,175.0L637.0,180.0L637.0,186.0L636.0,190.0L630.0,192.0L628.0,196.0L621.0,194.0L616.0,199.0L619.0,202.0L626.0,201.0L631.0,204.0L627.0,208.0L624.0,212.0L630.0,218.0L634.0,226.0L630.0,234.0L622.0,240.0L614.0,245.0L608.0,246.0L607.3,245.6L603.4,242.5L598.6,240.9L593.9,242.5L591.5,245.6L589.1,243.3L584.4,236.9L582.8,230.6L579.6,227.4L576.5,224.3L570.1,225.0L566.2,227.4L561.4,226.7L559.1,227.8L548.8,225.9L540.9,221.9L536.1,214.8L534.5,210.6L529.7,203.7L523.5,199.0L522.0,196.0L525.0,193.7L531.0,189.0L529.7,183.0L535.8,178.4Z" fill="#2b8cbe" stroke="#2b8cbe" stroke-width="0.7"/>
<path d="M609.7,248.8L613.7,248.8L612.9,252.0L609.7,252.0Z" fill="#2b8cbe" stroke="#2b8cbe" stroke-width="0.7"/>
<path d="M634.0,236.0L636.4,235.0L636.0,242.0L634.0,242.0Z" fill="url(#h)" stroke="#fff" stroke-width="0.6"/>
<path d="M630.0,192.0L636.0,190.0L638.0,193.0L634.0,200.0L631.0,200.5L630.0,196.0Z" fill="url(#h)" stroke="#fff" stroke-width="0.6"/>
<path d="M635.0,202.0L639.0,201.0L643.0,207.0L641.0,211.0L637.0,210.0Z" fill="#2b8cbe" stroke="#2b8cbe" stroke-width="0.7"/>
<path d="M656.0,184.0L660.0,183.0L666.0,186.0L665.0,189.0L660.0,192.0L657.0,189.0Z" fill="#2b8cbe" stroke="#2b8cbe" stroke-width="0.7"/>
<path d="M660.0,193.0L664.0,196.0L667.0,202.0L667.0,209.0L662.0,210.0L660.0,213.0L654.0,214.0L650.0,219.0L647.0,215.0L650.0,210.0L656.0,208.0L660.0,203.0L661.0,198.0Z" fill="#2b8cbe" stroke="#2b8cbe" stroke-width="0.7"/>
<path d="M523.5,203.7L529.7,203.7L534.5,210.6L536.1,214.8L540.9,221.9L548.8,227.4L559.1,229.0L561.4,227.4L566.2,228.2L570.1,225.9L576.5,225.1L579.6,227.4L577.3,232.2L574.1,237.7L572.5,242.5L570.9,245.6L569.4,241.7L566.2,242.5L563.8,244.9L559.9,245.6L553.5,251.2L547.2,258.3L546.4,264.6L547.2,272.6L542.4,279.7L537.7,272.6L532.9,261.5L528.2,247.2L523.5,246.4L518.7,240.9L518.7,238.5L521.9,236.9L518.7,230.6L525.0,225.1L527.4,218.7L525.0,211.0L529.7,208.0Z" fill="#7bccc4" stroke="#7bccc4" stroke-width="0.7"/>
<path d="M540.9,221.9L548.8,225.9L559.1,227.8L559.4,230.1L549.6,229.0L541.7,224.3Z" fill="#4eb3d3" stroke="#4eb3d3" stroke-width="0.7"/>
<path d="M547.2,275.7L550.4,278.9L551.1,282.8L548.8,285.2L546.4,280.5Z" fill="#4eb3d3" stroke="#4eb3d3" stroke-width="0.7"/>
<path d="M579.6,227.4L582.8,230.6L584.4,236.9L589.1,243.3L591.5,245.6L586.0,249.6L584.4,255.9L587.6,261.5L589.1,269.4L587.6,269.4L585.2,259.9L580.4,259.1L578.1,253.6L576.5,249.6L572.5,244.1L574.1,237.7L577.3,232.2Z" fill="url(#h)" stroke="#fff" stroke-width="0.6"/>
<path d="M586.0,249.6L589.9,248.0L592.3,254.4L597.8,256.7L601.0,259.1L600.2,263.9L597.1,265.4L593.1,267.0L590.7,264.6L589.9,271.0L591.5,278.9L594.7,283.6L592.3,284.4L589.9,278.9L588.3,271.0L587.6,269.4L589.1,269.4L587.6,261.5L584.4,255.9Z" fill="#7bccc4" stroke="#7bccc4" stroke-width="0.7"/>
<path d="M591.5,245.6L593.9,242.5L596.3,245.6L600.2,249.6L598.6,252.8L603.4,255.9L606.5,259.9L606.9,263.9L603.4,263.1L601.0,259.1L597.8,256.7L592.3,254.4L589.9,248.0Z" fill="#a8ddb5" stroke="#a8ddb5" stroke-width="0.7"/>
<path d="M593.9,242.5L598.6,240.9L603.4,242.5L607.3,245.6L605.0,249.6L603.4,252.8L608.1,258.3L612.1,263.1L612.9,267.8L608.9,272.6L605.0,277.3L603.4,274.1L607.3,269.4L606.9,263.9L606.5,259.9L603.4,255.9L598.6,252.8L600.2,249.6L596.3,245.6Z" fill="#4eb3d3" stroke="#4eb3d3" stroke-width="0.7"/>
<path d="M597.1,265.4L600.2,263.9L603.4,263.1L606.9,263.9L607.3,269.4L603.4,272.6L599.4,270.2Z" fill="url(#h)" stroke="#fff" stroke-width="0.6"/>
<path d="M594.7,283.6L598.0,286.0L602.0,292.0L603.0,298.0L599.0,295.0L595.0,289.0L592.3,284.4Z" fill="#4eb3d3" stroke="#4eb3d3" stroke-width="0.7"/>
<path d="M582.0,287.0L587.0,287.0L596.0,296.0L603.0,304.0L608.0,310.0L607.0,316.0L603.0,314.0L596.0,306.0L589.0,297.0L584.0,290.0Z" fill="#7bccc4" stroke="#7bccc4" stroke-width="0.7"/>
<path d="M606.0,317.0L612.0,317.0L622.0,319.6L629.0,322.0L628.0,324.0L618.0,322.0L608.0,320.0Z" fill="#7bccc4" stroke="#7bccc4" stroke-width="0.7"/>
<path d="M616.0,297.0L622.0,292.0L630.0,284.0L636.0,286.0L635.0,290.0L628.0,292.0L624.0,296.0L619.0,299.0Z" fill="#4eb3d3" stroke="#4eb3d3" stroke-width="0.7"/>
<path d="M615.0,298.0L619.0,299.0L624.0,296.0L628.0,292.0L635.0,290.0L637.0,298.0L633.0,304.0L631.0,311.0L624.0,310.0L618.0,308.0L614.0,303.0Z" fill="#7bccc4" stroke="#7bccc4" stroke-width="0.7"/>
<path d="M638.0,301.0L646.0,298.0L652.0,297.0L650.0,300.0L644.0,302.0L643.0,306.0L648.0,309.0L646.0,314.0L643.0,311.0L640.0,315.0L638.0,314.0L638.0,306.0Z" fill="#7bccc4" stroke="#7bccc4" stroke-width="0.7"/>
<path d="M637.0,253.0L641.0,253.0L642.0,260.0L646.0,265.0L650.0,269.0L648.0,271.0L643.0,268.0L639.0,265.0L637.0,259.0Z" fill="#7bccc4" stroke="#7bccc4" stroke-width="0.7"/>
<path d="M646.0,279.0L652.0,276.0L654.0,283.0L651.0,286.0L648.0,283.0L644.0,282.0Z" fill="#7bccc4" stroke="#7bccc4" stroke-width="0.7"/>
<path d="M643.0,271.0L647.0,271.0L650.0,275.0L646.0,277.0L643.0,275.0Z" fill="#7bccc4" stroke="#7bccc4" stroke-width="0.7"/>
<path d="M633.0,278.0L637.0,272.0L638.0,273.0L634.0,279.0Z" fill="#7bccc4" stroke="#7bccc4" stroke-width="0.7"/>
<path d="M631.0,323.0L640.0,322.5L640.0,324.5L631.0,325.0Z" fill="#7bccc4" stroke="#7bccc4" stroke-width="0.7"/>
<path d="M643.0,323.5L654.0,322.5L654.0,324.5L643.0,325.5Z" fill="#7bccc4" stroke="#7bccc4" stroke-width="0.7"/>
<path d="M648.0,327.0L655.0,324.0L656.0,325.0L649.0,328.5Z" fill="#7bccc4" stroke="#7bccc4" stroke-width="0.7"/>
<path d="M657.0,296.0L659.0,295.0L660.0,300.0L658.0,302.0Z" fill="#7bccc4" stroke="#7bccc4" stroke-width="0.7"/>
<path d="M653.0,309.5L658.0,308.8L664.0,309.6L664.0,310.8L658.0,310.4L653.0,310.8Z" fill="#7bccc4" stroke="#7bccc4" stroke-width="0.7"/>
<path d="M665.0,303.0L670.0,302.0L673.0,307.0L680.0,305.6L687.4,308.0L687.0,324.0L680.0,322.4L683.0,319.0L678.0,314.0L673.0,311.0L669.0,310.0L668.0,306.0Z" fill="#7bccc4" stroke="#7bccc4" stroke-width="0.7"/>
<path d="M687.4,308.0L695.0,310.0L702.0,317.0L700.0,320.0L705.0,325.0L709.0,328.0L700.0,327.0L695.0,323.0L690.0,325.0L687.0,324.0Z" fill="#f0f9e8" stroke="#f0f9e8" stroke-width="0.7"/>
<path d="M704.0,316.0L710.0,316.0L715.0,311.0L716.0,312.0L711.0,318.0L704.0,318.0Z" fill="#f0f9e8" stroke="#f0f9e8" stroke-width="0.7"/>
<path d="M690.0,330.0L693.0,338.0L695.0,346.0L700.0,354.0L704.0,362.0L706.0,370.0L702.0,380.0L698.0,388.0L690.0,396.0L682.0,400.0L674.0,402.0L667.0,401.0L664.0,396.0L665.0,389.0L660.0,392.0L656.0,385.0L648.0,384.0L638.0,386.0L630.0,390.0L620.0,392.0L614.0,390.0L617.0,383.0L617.0,370.0L620.0,359.0L630.0,354.0L640.0,349.0L644.0,344.0L654.0,338.0L660.0,336.0L665.0,331.0L676.0,332.0L673.0,339.0L682.0,347.0L687.0,340.0Z" fill="#2b8cbe" stroke="#2b8cbe" stroke-width="0.7"/>
<path d="M669.0,408.0L676.0,407.0L673.0,412.0L668.0,414.0Z" fill="#2b8cbe" stroke="#2b8cbe" stroke-width="0.7"/>
<path d="M739.0,391.0L741.0,392.0L742.0,399.0L746.0,399.0L741.0,404.0L733.0,409.0L732.0,407.0L738.0,401.0Z" fill="#2b8cbe" stroke="#2b8cbe" stroke-width="0.7"/>
<path d="M729.0,406.5L730.5,410.0L720.0,416.5L710.0,422.5L705.0,421.5L709.0,416.5L720.0,411.5Z" fill="#2b8cbe" stroke="#2b8cbe" stroke-width="0.7"/>
<path d="M719.0,315.0L722.0,316.5L724.0,319.0L722.5,319.5L720.0,317.5Z" fill="#ccebc5" stroke="#ccebc5" stroke-width="0.7"/>
<path d="M725.0,320.0L728.0,321.5L730.0,323.5L728.5,324.0L726.0,322.3Z" fill="#ccebc5" stroke="#ccebc5" stroke-width="0.7"/>
<path d="M730.5,324.5L733.0,326.0L735.0,328.5L733.5,329.0L731.5,326.8Z" fill="#ccebc5" stroke="#ccebc5" stroke-width="0.7"/>
<path d="M743.2,339.5L744.2,339.5L745.0,345.0L744.0,345.0Z" fill="url(#h)" stroke="#fff" stroke-width="0.6"/>
<path d="M734.5,354.0L736.0,353.3L740.5,358.0L739.0,359.0Z" fill="url(#h)" stroke="#fff" stroke-width="0.6"/>
<path d="M766.0,347.8L769.0,345.8L772.0,344.5L772.5,345.5L769.5,347.2L767.0,349.0Z" fill="url(#h)" stroke="#fff" stroke-width="0.6"/>
<path d="M492.6,353.0L493.6,353.0L493.6,354.2L492.6,354.2Z" fill="#2b8cbe" stroke="#2b8cbe" stroke-width="0.7"/>
<path d="M2.2,242.6L3.2,242.6L3.2,243.6L2.2,243.6Z" fill="#2b8cbe" stroke="#2b8cbe" stroke-width="0.7"/>
<path d="M5.0,245.0L6.4,245.4L6.6,246.6L5.2,246.2Z" fill="#2b8cbe" stroke="#2b8cbe" stroke-width="0.7"/>
<path d="M7.2,247.0L8.4,247.4L8.4,248.4L7.2,248.0Z" fill="#2b8cbe" stroke="#2b8cbe" stroke-width="0.7"/>

</g>
<g fill="none" stroke="#26323a" stroke-opacity="0.58" stroke-width="0.45" stroke-linejoin="round">
<path d="M81.0,127.0L88.0,124.4L100.0,121.6L109.0,120.4L120.0,122.0L128.0,124.0L140.0,124.4L150.0,122.5L158.2,124.1L166.5,125.8L169.8,127.4L183.0,126.6L192.8,125.0L199.4,127.4L206.0,122.5L211.8,120.0L215.1,127.4L217.5,127.4L222.5,123.3L226.6,125.0L225.0,131.5L222.5,137.3L220.0,138.1L215.9,134.0L211.8,133.2L207.7,135.7L201.0,139.0L192.8,143.0L187.9,148.0L191.2,152.1L197.8,155.4L203.5,158.7L203.5,165.3L206.0,167.0L208.5,162.8L210.1,157.0L215.9,153.8L218.4,149.7L220.8,143.0L222.5,140.6L232.4,141.4L235.7,144.7L237.3,149.7L242.3,147.2L244.7,145.5L247.2,153.0L253.0,159.5L253.8,166.1L248.8,168.6L245.2,169.0L238.6,169.9L231.0,171.3L225.4,174.2L221.0,177.3L225.4,175.6L231.0,173.2L233.9,174.2L231.0,176.5L232.0,179.3L235.8,180.3L239.5,179.8L238.6,181.7L232.9,183.1L227.3,184.5L225.4,187.4L224.0,182.2L221.6,184.5L216.4,188.3L215.0,191.6L209.3,193.5L205.6,195.4L202.7,198.7L199.4,200.6L199.0,204.3L198.0,209.1L193.3,211.9L189.5,215.0L186.0,217.0L184.0,220.0L185.0,230.0L183.0,235.0L180.0,232.0L178.0,224.0L174.0,222.0L170.0,222.0L158.0,224.0L148.0,229.0L144.5,235.0L143.0,241.0L144.0,248.0L148.0,253.0L153.0,252.0L157.0,250.0L159.0,246.0L163.0,245.0L167.0,245.0L166.5,247.5L164.0,251.0L161.5,253.5L160.0,254.5L156.5,255.0L155.5,258.5L153.0,260.0L150.0,260.0L146.0,259.0L140.0,259.5L136.0,257.0L126.0,250.0L125.0,246.0L120.0,236.0L114.0,219.0L111.0,218.0L113.0,230.0L116.0,241.0L115.0,240.0L109.0,228.0L106.0,215.0L104.0,213.0L100.0,210.0L99.4,200.0L101.0,192.0L104.0,186.0L109.0,182.0L112.0,178.0L115.0,177.0L114.0,173.0L111.0,168.0L111.0,160.0L113.0,156.0L112.0,152.0L110.0,148.0L104.0,146.0L96.0,144.4L88.0,144.4L82.0,148.0L76.0,152.0L71.0,153.0L60.0,156.0L44.0,159.6L60.0,154.4L70.0,151.0L80.0,147.0L76.0,146.0L70.0,147.0L68.0,149.0L63.0,149.0L60.0,145.0L62.0,141.6L69.0,139.0L77.0,139.0L79.0,136.0L71.0,134.4L71.0,132.0L80.0,131.0Z"/>
<path d="M159.1,119.2L168.1,114.2L176.4,115.9L183.0,117.5L194.5,116.7L197.8,121.7L192.8,124.1L183.0,125.8L171.4,127.4L168.1,125.0L169.8,122.5L163.2,121.7Z"/>
<path d="M175.5,109.3L187.9,107.7L199.4,106.0L201.1,108.5L197.8,111.8L187.9,112.6L181.3,110.9Z"/>
<path d="M206.0,110.1L215.9,107.7L219.2,111.8L212.6,114.2L206.8,112.6Z"/>
<path d="M208.5,104.4L220.8,105.2L222.5,107.7L211.0,106.8Z"/>
<path d="M199.4,116.7L207.7,115.9L215.9,115.1L214.3,119.2L206.0,121.7L202.7,120.0Z"/>
<path d="M219.2,110.1L229.1,109.3L240.6,110.1L239.0,113.4L227.4,114.2L220.8,112.6Z"/>
<path d="M224.1,103.5L235.7,100.2L252.1,98.6L276.9,98.6L265.3,102.7L255.4,106.0L247.2,107.7L242.3,109.3L232.4,108.5L227.4,106.8Z"/>
<path d="M217.5,118.4L225.8,116.7L235.7,117.5L243.9,120.0L250.5,123.3L248.8,126.6L256.3,130.7L252.1,133.2L248.8,132.4L247.2,137.3L243.1,139.8L239.8,138.1L235.7,135.7L236.5,129.1L234.8,125.8L230.7,127.4L229.9,131.5L232.4,133.2L235.7,135.7L230.7,134.8L225.0,136.5L227.4,131.5L229.1,126.6L224.1,125.0L219.2,123.3Z"/>
<path d="M210.1,135.7L215.9,134.8L219.2,139.8L213.4,140.6Z"/>
<path d="M242.3,176.0L247.2,169.4L253.0,167.0L252.1,171.1L255.4,174.4L254.6,178.5L250.5,177.7L247.2,176.8Z"/>
<path d="M256.0,107.0L264.0,103.0L278.0,99.0L300.0,97.6L320.0,97.0L340.0,99.0L336.0,106.0L334.0,114.0L328.0,120.0L322.0,124.0L310.0,127.0L298.0,130.0L290.0,136.0L286.0,144.0L280.0,146.0L274.0,142.0L271.0,134.0L274.0,124.0L274.0,116.0L266.0,110.0L256.0,109.0Z" stroke="#c8c8c8" stroke-opacity="1"/>
<path d="M321.0,133.0L325.0,131.0L334.0,131.0L339.0,133.0L336.0,136.0L328.0,138.0L323.0,136.4Z"/>
<path d="M48.0,134.0L60.0,126.0L63.0,129.0L68.0,131.0L67.0,133.0L62.0,134.0L59.0,136.0L54.0,134.4Z"/>
<path d="M9.0,249.0L11.0,249.0L11.6,250.6L9.6,251.6Z"/>
<path d="M156.5,255.0L160.0,254.5L160.5,258.5L161.5,260.0L160.0,262.0L158.5,264.0L155.0,264.0L152.5,261.5L153.0,260.0L155.5,258.5Z"/>
<path d="M160.5,254.5L163.0,253.0L162.5,258.5L160.8,259.0Z" stroke="#c8c8c8" stroke-opacity="1"/>
<path d="M160.0,262.0L162.0,260.0L166.0,259.0L171.0,259.5L173.0,261.5L170.0,263.0L166.0,264.5L164.0,266.5L162.5,265.0L160.5,264.0Z"/>
<path d="M158.5,264.0L160.5,264.0L162.5,265.0L163.0,266.5L160.0,266.0Z"/>
<path d="M164.0,266.5L166.0,264.5L170.0,263.0L173.0,262.0L172.0,267.0L171.5,271.0L167.0,271.5L164.5,269.0Z" stroke="#c8c8c8" stroke-opacity="1"/>
<path d="M166.5,272.0L171.5,271.5L173.5,275.5L172.5,279.0L170.0,277.5L168.5,275.0L166.0,274.0Z"/>
<path d="M173.5,276.0L177.0,277.5L180.0,276.0L183.0,276.5L185.0,278.5L184.5,281.5L182.5,279.0L180.0,278.0L178.5,279.5L177.5,282.0L175.0,280.5L172.8,279.0Z"/>
<path d="M171.5,243.0L175.0,241.0L180.0,240.5L184.0,242.0L187.0,244.5L191.0,246.5L194.5,247.5L194.0,248.5L189.0,248.5L186.0,246.0L182.0,243.5L178.0,242.2L174.0,243.0Z"/>
<path d="M185.0,253.0L188.0,252.5L189.7,253.8L187.0,254.3Z"/>
<path d="M194.0,252.5L197.0,253.0L197.5,250.5L196.5,249.5L200.0,249.5L200.5,254.5L198.0,253.8L194.5,253.5Z"/>
<path d="M200.0,249.5L204.0,249.5L207.5,252.5L204.0,253.5L201.0,254.5Z"/>
<path d="M210.0,252.5L213.5,252.5L213.5,254.0L210.0,254.0Z" stroke="#c8c8c8" stroke-opacity="1"/>
<path d="M184.5,281.5L187.0,277.0L190.0,273.5L194.0,271.5L199.0,268.5L200.0,269.5L204.0,270.0L210.0,274.0L216.0,273.0L222.0,273.5L225.0,279.0L230.0,285.0L237.0,286.0L243.0,289.0L248.0,298.0L252.0,303.0L264.0,307.0L274.0,310.0L281.0,315.0L283.0,320.0L282.0,326.0L274.0,338.0L271.0,352.0L269.0,360.0L262.0,363.0L256.0,368.0L254.0,376.0L249.0,385.0L246.0,391.0L239.0,392.4L241.0,397.0L238.0,401.0L231.0,402.0L230.0,407.0L226.0,409.0L229.0,411.5L226.5,416.0L224.0,421.0L228.5,424.5L227.5,430.0L225.0,433.0L227.0,436.0L231.0,440.0L237.0,443.5L233.0,445.0L230.0,444.5L223.0,441.5L217.0,438.0L213.0,433.0L210.0,426.0L208.5,422.0L209.0,414.0L207.0,408.0L205.5,400.0L204.0,380.0L205.0,360.0L203.0,348.0L189.0,338.0L186.0,330.0L182.0,322.0L177.0,313.0L177.0,302.0L182.0,297.0L185.0,289.0L186.0,280.0L184.0,284.0Z"/>
<path d="M184.5,281.5L184.2,278.3L186.7,278.3L190.8,272.5L198.3,268.3L200.0,270.0L195.8,276.7L197.5,282.5L206.7,286.7L209.2,292.5L207.5,295.8L202.5,298.3L200.8,306.7L201.7,311.7L200.8,306.7L196.7,306.7L190.0,303.3L187.5,300.8L181.7,296.7L181.7,295.0L184.2,289.2L185.8,281.7Z"/>
<path d="M200.0,270.0L204.2,270.0L211.7,273.3L220.0,273.3L223.3,273.3L224.2,280.0L221.7,285.0L223.3,288.3L218.3,290.0L214.2,290.8L215.0,295.8L210.8,298.3L209.2,292.5L206.7,286.7L197.5,282.5L195.8,276.7Z" stroke="#c8c8c8" stroke-opacity="1"/>
<path d="M238.3,286.7L242.5,287.5L244.2,290.8L240.8,295.0L238.3,294.0Z" stroke="#c8c8c8" stroke-opacity="1"/>
<path d="M203.0,348.0L206.0,354.0L210.0,360.0L210.0,366.0L208.0,380.0L210.0,396.0L211.0,400.0L212.0,408.0L214.5,416.0L216.0,425.0L217.0,431.0L222.0,435.5L226.0,437.0L225.0,441.0L230.0,444.5L223.0,441.5L217.0,438.0L213.0,433.0L210.0,426.0L208.5,422.0L209.0,414.0L207.0,408.0L205.5,400.0L204.0,380.0L205.0,360.0Z"/>
<path d="M212.0,360.0L214.0,359.0L222.0,358.0L227.0,363.0L233.0,367.0L234.0,372.0L241.0,369.0L242.0,372.0L236.0,380.0L236.0,390.0L239.0,392.4L241.0,397.0L238.0,401.0L231.0,402.0L230.0,407.0L226.0,409.0L229.0,411.5L226.5,416.0L224.0,421.0L228.5,424.5L227.5,430.0L225.0,433.0L227.0,436.0L226.0,437.0L222.0,435.5L217.0,431.0L216.0,425.0L214.5,416.0L212.0,408.0L211.0,400.0L210.0,396.0L208.0,380.0L210.0,366.0L210.0,360.0Z"/>
<path d="M226.0,437.5L227.0,436.5L231.0,440.0L237.0,443.5L233.0,445.0L230.0,444.5L225.5,441.0Z"/>
<path d="M222.0,353.0L228.0,351.0L232.0,354.0L236.0,359.0L241.0,369.0L234.0,372.0L233.0,367.0L227.0,363.0L222.0,358.0Z"/>
<path d="M236.0,380.0L239.0,380.0L248.0,386.0L246.0,391.0L239.0,392.4L236.0,390.0Z"/>
<path d="M334.5,228.9L341.7,222.0L343.0,215.6L348.8,209.0L352.7,207.8L359.2,208.5L367.0,205.0L380.0,204.5L385.9,203.9L385.2,209.0L387.8,214.3L387.8,216.3L391.7,215.6L403.4,219.5L407.3,216.9L416.4,218.2L418.4,218.9L428.0,220.0L438.0,219.0L441.0,219.5L440.5,226.0L439.5,225.0L439.0,232.0L445.0,243.0L449.0,253.0L451.0,256.0L456.0,263.0L460.0,268.0L461.0,271.0L468.0,272.0L480.0,269.0L480.0,274.0L476.0,282.0L470.0,292.0L462.0,300.0L459.0,304.0L455.0,312.0L454.0,319.0L456.0,328.0L456.0,336.0L454.0,342.0L447.0,348.0L441.0,353.0L443.0,358.0L442.0,364.0L436.0,368.0L435.0,372.0L430.0,381.0L423.0,387.0L414.0,390.0L406.0,391.0L403.0,386.0L399.0,374.0L394.0,356.0L390.0,346.0L390.0,338.0L393.0,324.0L392.4,322.8L391.0,315.7L389.1,311.0L385.9,307.2L383.3,302.0L385.9,296.2L383.9,292.9L382.6,289.7L376.8,289.7L372.9,285.8L369.6,285.0L363.8,285.0L357.9,288.4L355.3,287.0L348.8,288.4L345.6,289.0L342.3,287.7L337.8,284.5L333.2,279.3L330.0,274.0L326.7,270.8L324.8,267.0L322.8,262.4L326.0,257.0L324.8,252.0L325.4,244.9L328.0,237.7L331.9,231.2Z"/>
<path d="M334.5,228.0L341.7,222.0L343.0,215.6L348.8,209.0L352.7,207.8L359.2,208.5L360.5,215.6L355.3,218.9L350.0,222.0L344.3,225.4L343.0,229.0L334.5,228.9Z"/>
<path d="M359.2,208.5L367.0,205.0L380.0,204.5L379.4,213.0L382.6,219.5L385.2,222.0L384.6,232.5L389.8,239.0L382.6,244.2L373.5,250.7L370.3,250.0L343.6,229.3L344.3,225.4L350.0,222.0L355.3,218.9L360.5,215.6Z"/>
<path d="M380.0,204.5L385.9,203.9L385.2,209.0L387.8,214.3L385.2,221.5L382.6,219.5L379.4,213.0Z"/>
<path d="M387.8,216.3L391.7,215.6L403.4,219.5L407.3,216.9L416.4,218.2L418.4,218.9L419.0,248.8L416.4,248.0L396.9,240.3L389.8,239.0L384.6,232.5L385.2,222.0L387.8,214.3Z" stroke="#c8c8c8" stroke-opacity="1"/>
<path d="M418.4,218.9L428.0,220.0L438.0,219.0L441.0,219.5L440.5,226.0L439.5,225.0L439.0,232.0L445.0,243.0L445.0,243.6L419.7,243.6Z"/>
<path d="M419.7,243.6L445.0,243.6L449.0,253.0L448.0,258.0L444.0,268.0L439.0,270.0L438.0,274.0L428.0,276.0L422.0,274.0L418.0,270.0L415.0,264.0L417.7,256.0L419.0,248.8Z" stroke="#c8c8c8" stroke-opacity="1"/>
<path d="M334.5,228.9L343.0,229.6L343.0,232.5L336.5,233.0L335.8,239.0L333.2,239.7L332.6,244.9L325.4,244.9L328.0,237.7L331.9,231.2Z" stroke="#c8c8c8" stroke-opacity="1"/>
<path d="M325.4,245.5L332.6,245.3L333.2,239.7L335.8,239.0L336.5,233.0L343.0,232.5L343.0,229.6L349.5,235.0L350.0,260.5L336.5,261.0L333.2,258.5L326.7,257.9L324.8,252.0Z"/>
<path d="M372.2,252.0L373.5,251.0L389.8,239.7L396.9,241.0L398.2,246.8L398.2,254.6L394.3,263.7L395.6,267.0L393.0,266.3L385.2,267.0L378.7,265.0L372.2,266.3L369.0,269.0L365.0,263.7L367.0,261.0L371.6,259.8Z"/>
<path d="M396.9,241.0L416.4,248.8L417.7,250.0L417.7,256.0L415.0,264.0L418.0,270.0L415.8,270.9L411.2,274.0L406.0,278.0L399.5,279.0L397.6,274.0L397.6,270.2L395.6,267.0L394.3,263.7L398.2,254.6L398.2,246.8Z"/>
<path d="M372.2,265.6L377.4,265.0L385.2,266.9L393.0,265.6L396.3,267.6L394.3,273.4L391.7,280.0L385.9,283.2L382.6,289.7L376.8,289.7L372.9,285.4L370.3,284.5L370.3,278.6L371.6,272.8Z"/>
<path d="M356.6,272.8L362.5,272.4L363.8,280.0L363.8,284.9L357.9,288.4L356.0,284.5L356.6,278.0Z"/>
<path d="M364.2,273.4L365.7,273.4L366.4,284.9L364.4,284.9Z"/>
<path d="M325.4,268.2L331.3,268.2L330.0,270.8L326.7,270.8Z"/>
<path d="M397.6,281.2L404.7,280.6L411.2,276.7L415.1,272.8L418.0,270.0L419.0,275.0L419.0,279.0L425.0,286.0L423.0,288.0L415.0,286.5L407.0,287.5L402.1,292.9L399.5,293.6L396.9,287.7Z"/>
<path d="M419.0,275.0L422.0,274.0L428.0,277.0L435.0,273.0L438.0,270.0L440.0,280.0L444.0,285.0L439.0,290.0L432.0,291.0L425.0,286.0L419.0,279.0Z"/>
<path d="M448.0,258.0L451.0,256.0L456.0,263.0L460.0,268.0L456.0,265.0L448.0,264.0Z"/>
<path d="M463.0,274.0L461.0,271.0L468.0,272.0L480.0,269.0L480.0,274.0L476.0,282.0L470.0,292.0L462.0,300.0L459.0,304.0L458.0,292.0L465.0,288.0L472.0,280.0Z" stroke="#c8c8c8" stroke-opacity="1"/>
<path d="M444.0,287.0L450.0,290.0L458.0,291.0L458.0,292.0L456.0,298.0L459.0,304.0L455.0,312.0L449.0,307.0L442.0,303.0L442.0,296.0Z"/>
<path d="M385.2,298.8L389.1,298.8L389.1,295.5L393.0,295.5L393.7,300.0L395.6,301.4L395.0,305.9L392.4,307.2L389.8,306.6L388.5,310.5L385.9,307.2L383.3,302.0Z"/>
<path d="M390.0,345.5L410.0,347.5L416.0,347.0L418.0,348.0L410.5,349.0L410.0,357.0L408.5,358.0L407.0,362.0L407.0,375.0L404.0,377.0L399.0,374.0L394.0,356.0Z"/>
<path d="M399.0,374.0L404.0,377.0L407.0,375.0L408.0,368.0L411.0,371.0L417.0,368.0L424.0,362.0L429.0,359.0L434.0,360.0L435.0,368.0L435.0,372.0L430.0,381.0L423.0,387.0L414.0,390.0L406.0,391.0L403.0,386.0Z"/>
<path d="M423.0,378.0L426.0,376.0L428.0,378.0L425.0,381.0Z"/>
<path d="M410.5,349.0L416.0,347.5L419.0,346.5L421.0,348.0L423.0,350.5L425.5,354.0L429.0,358.0L424.0,362.0L417.0,368.0L411.0,371.0L408.0,368.0L407.0,362.0L408.5,358.0L410.0,357.0Z"/>
<path d="M413.0,335.0L417.5,334.0L418.0,330.5L423.0,331.5L427.0,332.5L429.5,335.0L430.5,334.0L428.5,330.0L429.0,323.5L433.0,322.5L438.0,325.5L439.5,331.0L437.5,337.0L433.0,339.5L430.0,341.5L425.0,347.0L419.0,346.5L415.0,345.5L413.0,340.0Z"/>
<path d="M439.0,326.0L440.5,326.5L441.5,332.0L443.5,337.0L444.5,340.0L443.5,343.5L442.0,343.5L441.5,339.0L439.0,336.5L438.5,335.0L439.8,331.0Z"/>
<path d="M475.0,333.0L478.0,336.0L477.0,344.0L473.0,354.0L469.0,364.0L464.0,368.0L461.0,364.0L461.0,357.0L464.0,346.0L470.0,340.0Z"/>
<path d="M430.5,305.0L434.0,306.0L433.0,311.0L431.0,312.0L430.3,308.5Z" stroke="#c8c8c8" stroke-opacity="1"/>
<path d="M414.2,122.9L415.0,123.8L421.7,124.6L429.2,126.7L432.5,129.2L431.7,131.7L426.7,130.8L421.7,130.4L425.0,132.9L428.3,135.8L431.7,133.3L435.0,131.7L438.0,127.0L444.0,129.0L452.0,126.0L464.0,125.0L470.0,123.0L473.0,118.0L477.0,117.0L479.0,122.0L481.0,127.0L482.5,124.0L481.5,119.0L485.0,117.0L488.0,124.0L487.0,131.0L489.0,130.5L490.0,128.0L487.0,120.0L492.0,116.0L500.0,113.0L509.0,109.0L511.0,105.0L518.0,105.0L524.0,109.0L536.0,110.0L540.0,114.0L552.0,115.0L570.0,117.5L578.0,120.0L586.0,117.0L598.0,118.0L610.0,120.0L622.0,122.0L634.0,124.0L646.0,123.0L650.0,124.0L661.7,125.0L670.0,129.2L678.3,135.0L685.8,140.0L679.2,141.7L675.8,145.8L671.7,145.0L666.7,147.5L665.0,150.0L671.7,153.3L675.0,158.3L675.0,167.5L668.3,162.5L661.7,156.7L658.3,151.7L660.8,145.0L658.3,140.8L656.7,144.2L650.0,143.0L647.5,148.3L638.0,149.0L628.0,150.0L624.0,158.0L634.0,160.0L642.0,166.0L646.0,174.0L645.0,184.0L641.0,189.0L637.0,186.0L637.0,180.0L630.0,175.0L622.0,173.0L616.0,167.0L610.0,164.0L602.0,163.0L599.0,167.0L598.0,170.0L590.0,171.0L580.0,172.0L570.0,169.0L560.0,167.0L558.0,170.0L546.0,170.0L540.0,173.0L526.0,169.0L518.0,165.0L510.0,161.0L496.0,157.0L483.7,160.7L481.7,165.0L484.2,167.9L480.8,168.3L472.5,168.8L465.8,166.7L461.7,167.5L458.8,170.0L457.5,172.9L458.3,175.8L461.7,179.2L462.1,181.7L460.0,184.2L462.1,186.7L464.2,190.0L465.4,192.9L461.7,192.5L460.8,194.2L456.7,193.8L453.3,192.9L450.0,192.9L450.4,191.3L448.3,189.2L445.0,186.7L441.7,184.6L440.3,183.6L440.8,180.4L442.5,178.3L441.7,178.3L442.9,176.7L443.3,173.3L440.0,170.0L435.0,167.5L431.7,165.0L425.5,163.4L422.5,158.3L418.3,155.0L415.0,151.7L415.0,147.1L415.8,145.0L416.7,142.9L419.6,140.0L416.7,136.7L415.0,131.7L412.9,128.3L411.7,125.4Z"/>
<path d="M448.0,120.0L451.0,113.0L460.0,109.6L467.0,109.0L458.0,113.0L454.0,118.0L457.0,122.0L450.0,121.6Z"/>
<path d="M427.0,102.0L435.0,102.0L435.0,103.5L427.0,103.5Z"/>
<path d="M494.0,101.6L500.0,101.0L508.0,104.4L500.0,105.0Z"/>
<path d="M574.0,110.0L586.0,111.0L596.0,112.0L586.0,115.0Z"/>
<path d="M639.0,160.0L642.0,162.0L654.0,172.0L657.0,181.0L652.0,175.0L645.0,168.0Z"/>
<path d="M401.5,158.2L406.5,158.2L406.5,160.0L401.5,160.0Z"/>
<path d="M384.2,156.3L386.7,156.3L386.7,158.3L384.5,158.3Z"/>
<path d="M378.0,104.0L390.0,102.0L402.0,103.0L398.0,106.0L388.0,109.0L383.0,107.0Z"/>
<path d="M414.2,122.9L411.7,125.4L412.9,128.3L415.0,131.7L416.7,136.7L419.6,140.0L416.7,142.9L415.8,145.0L410.0,145.4L405.0,146.3L402.5,144.2L401.3,141.7L401.7,138.3L404.2,136.3L406.7,133.8L405.0,132.5L400.8,134.2L399.6,136.7L395.8,139.6L394.6,143.3L397.1,146.3L395.0,149.2L393.8,152.5L391.7,155.8L389.2,157.5L386.7,155.0L383.8,151.7L382.9,148.3L380.4,149.2L376.3,150.8L373.3,148.3L372.1,141.7L374.2,140.0L379.2,137.5L384.2,133.3L388.3,129.2L393.3,125.4L398.3,122.9L402.5,121.3L406.7,120.8L410.8,121.3Z"/>
<path d="M415.0,147.1L415.0,151.7L418.3,155.0L422.5,158.3L425.5,163.4L431.0,166.0L438.8,171.0L443.3,173.3L442.9,176.7L441.7,178.3L440.4,178.8L437.5,179.6L435.0,181.3L437.1,182.9L439.2,182.5L440.3,183.6L439.2,183.8L435.0,184.2L432.9,184.6L431.7,182.1L429.2,180.4L426.3,180.0L424.6,182.5L422.5,185.8L421.7,189.2L422.1,191.5L420.0,192.5L419.2,193.8L418.8,194.2L415.0,195.4L412.9,196.3L412.1,198.3L414.2,200.8L413.8,202.5L412.1,202.9L412.5,205.4L410.4,204.2L408.8,201.7L407.5,199.2L406.3,197.1L404.6,195.4L403.3,190.8L399.2,187.5L395.0,183.8L393.3,183.3L391.7,181.7L389.2,182.5L389.2,185.0L391.7,189.2L393.3,192.9L396.0,193.0L398.3,193.8L401.7,196.3L399.2,196.7L398.3,200.0L396.3,202.5L395.0,201.0L392.5,198.5L390.5,196.5L388.5,194.5L386.8,191.7L384.4,188.3L383.3,186.3L380.8,185.8L376.7,187.9L372.9,188.3L369.2,190.4L364.7,196.0L360.8,203.7L353.0,206.0L349.8,205.0L347.0,203.7L343.9,203.7L342.6,198.5L343.9,190.7L344.2,188.3L348.3,187.1L359.6,187.5L360.4,185.0L360.0,180.8L357.9,177.1L353.8,175.0L359.2,173.3L360.0,171.3L364.2,170.8L367.5,168.8L368.8,167.9L371.7,164.6L374.2,161.7L376.7,161.3L379.2,160.4L378.8,157.5L379.2,154.2L381.7,152.1L383.3,152.9L382.9,155.8L381.7,158.3L383.3,160.0L386.7,160.4L390.8,160.8L395.0,159.2L400.0,158.8L401.7,159.2L404.2,157.5L403.3,154.2L405.0,152.5L408.3,151.7L405.8,148.3L405.8,147.8L410.0,147.3Z"/>
<path d="M351.7,151.7L354.2,149.6L357.9,150.0L357.1,152.9L358.8,154.2L357.9,156.7L360.8,159.2L362.9,162.9L365.8,164.6L365.4,167.1L363.3,168.3L359.2,168.8L355.4,169.2L352.1,170.4L354.6,167.5L356.7,166.3L353.8,165.4L354.2,162.5L356.3,161.3L354.6,158.8L352.5,157.5L352.9,155.0Z"/>
<path d="M343.3,165.4L344.6,161.7L347.9,158.8L350.8,158.3L351.7,160.4L350.4,163.8L347.5,165.4L344.6,166.3Z"/>
<path d="M390.2,201.5L396.5,200.8L397.5,202.0L395.0,205.5L391.5,203.5Z"/>
<path d="M381.3,190.4L382.7,189.6L383.1,197.0L381.3,197.9Z"/>
<path d="M381.6,186.0L382.6,186.0L382.6,189.0L381.6,189.0Z"/>
<path d="M343.9,190.7L348.5,192.0L347.0,203.7L343.9,203.7L342.6,198.5Z"/>
<path d="M384.2,177.5L387.5,177.1L389.6,175.0L394.2,174.2L396.7,175.4L395.8,177.9L393.3,179.6L389.2,179.2L386.7,178.3Z"/>
<path d="M406.3,197.1L407.5,195.0L410.8,194.2L414.2,193.8L417.1,193.3L418.8,194.2L415.0,195.4L412.9,196.3L412.1,198.3L414.2,200.8L413.8,202.5L412.1,202.9L412.5,205.4L410.4,204.2L408.8,201.7L407.5,199.2Z"/>
<path d="M414.2,207.9L416.7,208.3L419.6,208.8L419.2,209.6L415.0,209.2Z"/>
<path d="M404.2,190.8L405.8,191.3L406.7,194.2L405.8,196.7L404.6,195.4Z"/>
<path d="M405.8,188.8L407.5,188.8L407.5,190.4L405.8,190.4Z" stroke="#c8c8c8" stroke-opacity="1"/>
<path d="M396.3,183.8L400.8,183.8L403.3,185.8L402.1,188.8L400.0,187.5Z" stroke="#c8c8c8" stroke-opacity="1"/>
<path d="M419.2,193.8L420.0,192.5L422.1,191.7L423.8,194.2L428.3,193.8L431.7,192.1L435.8,191.7L440.0,192.5L445.0,193.8L449.6,192.9L453.3,193.3L456.7,194.2L458.3,197.5L457.5,200.8L458.8,202.9L453.3,203.8L448.3,204.2L442.5,205.0L440.4,205.8L436.7,205.0L433.3,206.3L430.0,206.3L426.7,205.8L423.3,203.8L420.0,200.8L419.6,197.5L420.8,195.4L421.7,194.6Z"/>
<path d="M433.3,209.6L436.7,207.9L437.5,208.3L435.0,210.4Z"/>
<path d="M456.7,194.2L458.3,194.2L461.7,193.8L464.2,193.3L465.4,192.9L466.7,193.8L469.2,195.8L467.9,199.2L465.8,198.3L463.3,197.9L460.4,198.3L457.5,197.5L458.3,197.5Z"/>
<path d="M442.0,205.0L453.0,203.7L452.0,208.0L448.4,214.4L443.0,216.0L441.5,211.0Z"/>
<path d="M453.0,203.7L458.0,203.7L462.0,211.0L467.6,217.5L469.9,222.0L466.8,223.6L462.0,225.0L454.5,219.0L448.4,215.0L452.0,208.0Z"/>
<path d="M443.0,216.0L448.4,215.0L454.5,219.0L446.9,222.0L441.5,223.6L441.0,219.5Z"/>
<path d="M439.0,216.0L441.5,211.0L443.0,216.0L441.0,219.5L441.5,223.6L440.5,226.0L439.8,221.0Z"/>
<path d="M441.5,223.6L446.9,222.0L454.5,219.0L462.0,225.0L467.0,224.0L469.3,223.5L470.9,226.7L474.1,230.6L476.4,234.6L479.6,237.7L481.2,241.7L487.5,242.5L487.5,245.6L482.8,250.4L478.8,252.0L470.9,255.1L463.0,255.9L460.6,257.5L453.5,247.2L447.2,237.7L441.6,228.2L440.0,225.1Z"/>
<path d="M466.8,223.6L469.9,222.0L470.1,222.2L469.3,223.5L468.5,225.5L467.0,224.0Z"/>
<path d="M460.6,257.5L463.0,255.9L470.9,255.1L478.8,252.0L482.8,250.4L484.4,257.5L480.4,259.9L472.5,263.8L464.6,267.0L461.4,266.2Z"/>
<path d="M489.1,233.0L490.7,237.7L494.6,240.9L497.8,243.3L494.6,247.2L493.1,252.0L488.3,255.1L484.4,257.5L482.8,250.4L487.5,245.6L487.5,242.5L488.3,237.7Z"/>
<path d="M479.6,237.7L483.6,237.7L487.5,235.4L489.1,233.0L488.3,237.7L487.5,242.5L481.2,241.7Z"/>
<path d="M476.4,234.6L478.0,232.8L479.2,234.6L479.0,237.0Z"/>
<path d="M457.5,197.5L460.4,198.3L463.3,197.9L465.8,198.3L467.9,199.2L468.3,201.7L471.7,203.8L475.8,205.0L478.8,203.3L482.5,201.7L486.7,202.1L491.7,204.2L495.0,205.8L498.3,208.3L496.3,209.2L496.0,212.0L496.7,214.4L499.8,218.0L499.0,223.6L503.6,228.0L501.0,235.4L493.1,236.5L489.9,233.0L488.3,231.7L485.3,232.3L481.0,230.4L477.0,226.8L472.8,223.9L470.1,222.2L469.9,222.0L467.6,217.5L463.0,211.0L459.0,203.7L458.8,202.9Z"/>
<path d="M457.5,172.9L458.8,170.0L461.7,167.5L465.8,166.7L472.5,168.8L480.8,168.3L484.2,167.9L481.7,165.0L483.7,160.7L496.0,157.0L511.0,160.0L522.0,165.0L537.0,172.0L540.4,173.8L535.8,178.4L529.7,183.0L531.0,189.0L522.0,188.0L515.0,190.0L510.8,192.5L505.0,193.3L500.8,189.2L496.7,186.7L491.7,187.1L486.7,183.8L482.5,182.1L478.3,183.8L479.2,188.3L475.4,191.3L471.7,189.2L467.1,185.0L468.8,182.9L471.7,182.5L472.1,180.8L470.0,179.2L465.8,179.2L462.1,181.7L461.7,179.2L458.3,175.8Z"/>
<path d="M478.3,183.8L482.5,182.1L486.7,183.8L491.7,187.1L496.7,186.7L500.8,189.2L505.0,193.3L510.8,192.5L512.8,192.0L516.0,196.0L509.8,196.0L508.0,200.6L509.6,203.3L507.5,201.7L503.3,199.2L498.3,196.7L494.2,193.3L490.0,191.7L486.7,189.6L484.2,190.8L480.8,192.5L479.2,188.3Z"/>
<path d="M475.4,191.3L479.2,188.3L480.8,192.5L484.2,190.8L486.7,189.6L490.0,191.7L494.2,193.3L498.3,196.7L503.3,199.2L507.5,201.7L509.6,203.3L506.7,203.3L502.5,205.0L500.0,207.5L498.3,208.3L495.0,205.8L491.7,204.2L486.7,202.1L482.5,201.7L478.8,203.3L477.9,200.0L475.4,197.5L475.0,194.2L477.1,194.6L477.5,192.9Z"/>
<path d="M512.8,190.0L522.0,188.0L531.0,189.0L525.0,193.7L519.0,195.0L516.0,194.5L516.0,196.0L512.8,192.0L506.7,193.7Z"/>
<path d="M509.8,196.0L516.0,196.0L519.0,195.0L523.5,199.0L527.0,201.5L524.0,203.7L518.0,203.7L514.4,200.6L511.7,201.7L509.6,203.3L508.0,200.6Z"/>
<path d="M496.3,209.2L498.3,208.3L500.0,207.5L502.5,205.0L506.7,203.3L509.6,203.3L511.7,201.7L514.4,200.6L518.0,203.7L523.5,203.7L518.0,205.2L517.4,210.6L513.6,217.5L509.8,222.9L505.0,224.4L499.0,223.6L499.8,218.0L496.7,214.4L496.0,212.0Z"/>
<path d="M503.6,228.0L499.0,223.6L505.0,224.4L509.8,222.9L513.6,217.5L517.4,210.6L518.0,205.2L523.5,203.7L529.7,208.0L525.0,211.0L527.4,218.7L525.0,225.1L518.7,230.6L521.9,236.9L518.7,238.5L511.3,234.6L501.0,235.4Z"/>
<path d="M540.4,173.8L546.0,170.0L558.0,170.0L560.0,167.0L570.0,169.0L580.0,172.0L590.0,171.0L598.0,170.0L599.0,167.0L602.0,163.0L610.0,164.0L616.0,167.0L622.0,173.0L630.0,175.0L637.0,180.0L637.0,186.0L636.0,190.0L630.0,192.0L628.0,196.0L621.0,194.0L616.0,199.0L619.0,202.0L626.0,201.0L631.0,204.0L627.0,208.0L624.0,212.0L630.0,218.0L634.0,226.0L630.0,234.0L622.0,240.0L614.0,245.0L608.0,246.0L607.3,245.6L603.4,242.5L598.6,240.9L593.9,242.5L591.5,245.6L589.1,243.3L584.4,236.9L582.8,230.6L579.6,227.4L576.5,224.3L570.1,225.0L566.2,227.4L561.4,226.7L559.1,227.8L548.8,225.9L540.9,221.9L536.1,214.8L534.5,210.6L529.7,203.7L523.5,199.0L522.0,196.0L525.0,193.7L531.0,189.0L529.7,183.0L535.8,178.4Z"/>
<path d="M609.7,248.8L613.7,248.8L612.9,252.0L609.7,252.0Z"/>
<path d="M634.0,236.0L636.4,235.0L636.0,242.0L634.0,242.0Z" stroke="#c8c8c8" stroke-opacity="1"/>
<path d="M630.0,192.0L636.0,190.0L638.0,193.0L634.0,200.0L631.0,200.5L630.0,196.0Z" stroke="#c8c8c8" stroke-opacity="1"/>
<path d="M635.0,202.0L639.0,201.0L643.0,207.0L641.0,211.0L637.0,210.0Z"/>
<path d="M656.0,184.0L660.0,183.0L666.0,186.0L665.0,189.0L660.0,192.0L657.0,189.0Z"/>
<path d="M660.0,193.0L664.0,196.0L667.0,202.0L667.0,209.0L662.0,210.0L660.0,213.0L654.0,214.0L650.0,219.0L647.0,215.0L650.0,210.0L656.0,208.0L660.0,203.0L661.0,198.0Z"/>
<path d="M523.5,203.7L529.7,203.7L534.5,210.6L536.1,214.8L540.9,221.9L548.8,227.4L559.1,229.0L561.4,227.4L566.2,228.2L570.1,225.9L576.5,225.1L579.6,227.4L577.3,232.2L574.1,237.7L572.5,242.5L570.9,245.6L569.4,241.7L566.2,242.5L563.8,244.9L559.9,245.6L553.5,251.2L547.2,258.3L546.4,264.6L547.2,272.6L542.4,279.7L537.7,272.6L532.9,261.5L528.2,247.2L523.5,246.4L518.7,240.9L518.7,238.5L521.9,236.9L518.7,230.6L525.0,225.1L527.4,218.7L525.0,211.0L529.7,208.0Z"/>
<path d="M540.9,221.9L548.8,225.9L559.1,227.8L559.4,230.1L549.6,229.0L541.7,224.3Z"/>
<path d="M547.2,275.7L550.4,278.9L551.1,282.8L548.8,285.2L546.4,280.5Z"/>
<path d="M579.6,227.4L582.8,230.6L584.4,236.9L589.1,243.3L591.5,245.6L586.0,249.6L584.4,255.9L587.6,261.5L589.1,269.4L587.6,269.4L585.2,259.9L580.4,259.1L578.1,253.6L576.5,249.6L572.5,244.1L574.1,237.7L577.3,232.2Z" stroke="#c8c8c8" stroke-opacity="1"/>
<path d="M586.0,249.6L589.9,248.0L592.3,254.4L597.8,256.7L601.0,259.1L600.2,263.9L597.1,265.4L593.1,267.0L590.7,264.6L589.9,271.0L591.5,278.9L594.7,283.6L592.3,284.4L589.9,278.9L588.3,271.0L587.6,269.4L589.1,269.4L587.6,261.5L584.4,255.9Z"/>
<path d="M591.5,245.6L593.9,242.5L596.3,245.6L600.2,249.6L598.6,252.8L603.4,255.9L606.5,259.9L606.9,263.9L603.4,263.1L601.0,259.1L597.8,256.7L592.3,254.4L589.9,248.0Z"/>
<path d="M593.9,242.5L598.6,240.9L603.4,242.5L607.3,245.6L605.0,249.6L603.4,252.8L608.1,258.3L612.1,263.1L612.9,267.8L608.9,272.6L605.0,277.3L603.4,274.1L607.3,269.4L606.9,263.9L606.5,259.9L603.4,255.9L598.6,252.8L600.2,249.6L596.3,245.6Z"/>
<path d="M597.1,265.4L600.2,263.9L603.4,263.1L606.9,263.9L607.3,269.4L603.4,272.6L599.4,270.2Z" stroke="#c8c8c8" stroke-opacity="1"/>
<path d="M594.7,283.6L598.0,286.0L602.0,292.0L603.0,298.0L599.0,295.0L595.0,289.0L592.3,284.4Z"/>
<path d="M582.0,287.0L587.0,287.0L596.0,296.0L603.0,304.0L608.0,310.0L607.0,316.0L603.0,314.0L596.0,306.0L589.0,297.0L584.0,290.0Z"/>
<path d="M606.0,317.0L612.0,317.0L622.0,319.6L629.0,322.0L628.0,324.0L618.0,322.0L608.0,320.0Z"/>
<path d="M616.0,297.0L622.0,292.0L630.0,284.0L636.0,286.0L635.0,290.0L628.0,292.0L624.0,296.0L619.0,299.0Z"/>
<path d="M615.0,298.0L619.0,299.0L624.0,296.0L628.0,292.0L635.0,290.0L637.0,298.0L633.0,304.0L631.0,311.0L624.0,310.0L618.0,308.0L614.0,303.0Z"/>
<path d="M638.0,301.0L646.0,298.0L652.0,297.0L650.0,300.0L644.0,302.0L643.0,306.0L648.0,309.0L646.0,314.0L643.0,311.0L640.0,315.0L638.0,314.0L638.0,306.0Z"/>
<path d="M637.0,253.0L641.0,253.0L642.0,260.0L646.0,265.0L650.0,269.0L648.0,271.0L643.0,268.0L639.0,265.0L637.0,259.0Z"/>
<path d="M646.0,279.0L652.0,276.0L654.0,283.0L651.0,286.0L648.0,283.0L644.0,282.0Z"/>
<path d="M643.0,271.0L647.0,271.0L650.0,275.0L646.0,277.0L643.0,275.0Z"/>
<path d="M633.0,278.0L637.0,272.0L638.0,273.0L634.0,279.0Z"/>
<path d="M631.0,323.0L640.0,322.5L640.0,324.5L631.0,325.0Z"/>
<path d="M643.0,323.5L654.0,322.5L654.0,324.5L643.0,325.5Z"/>
<path d="M648.0,327.0L655.0,324.0L656.0,325.0L649.0,328.5Z"/>
<path d="M657.0,296.0L659.0,295.0L660.0,300.0L658.0,302.0Z"/>
<path d="M653.0,309.5L658.0,308.8L664.0,309.6L664.0,310.8L658.0,310.4L653.0,310.8Z"/>
<path d="M665.0,303.0L670.0,302.0L673.0,307.0L680.0,305.6L687.4,308.0L687.0,324.0L680.0,322.4L683.0,319.0L678.0,314.0L673.0,311.0L669.0,310.0L668.0,306.0Z"/>
<path d="M687.4,308.0L695.0,310.0L702.0,317.0L700.0,320.0L705.0,325.0L709.0,328.0L700.0,327.0L695.0,323.0L690.0,325.0L687.0,324.0Z"/>
<path d="M704.0,316.0L710.0,316.0L715.0,311.0L716.0,312.0L711.0,318.0L704.0,318.0Z"/>
<path d="M690.0,330.0L693.0,338.0L695.0,346.0L700.0,354.0L704.0,362.0L706.0,370.0L702.0,380.0L698.0,388.0L690.0,396.0L682.0,400.0L674.0,402.0L667.0,401.0L664.0,396.0L665.0,389.0L660.0,392.0L656.0,385.0L648.0,384.0L638.0,386.0L630.0,390.0L620.0,392.0L614.0,390.0L617.0,383.0L617.0,370.0L620.0,359.0L630.0,354.0L640.0,349.0L644.0,344.0L654.0,338.0L660.0,336.0L665.0,331.0L676.0,332.0L673.0,339.0L682.0,347.0L687.0,340.0Z"/>
<path d="M669.0,408.0L676.0,407.0L673.0,412.0L668.0,414.0Z"/>
<path d="M739.0,391.0L741.0,392.0L742.0,399.0L746.0,399.0L741.0,404.0L733.0,409.0L732.0,407.0L738.0,401.0Z"/>
<path d="M729.0,406.5L730.5,410.0L720.0,416.5L710.0,422.5L705.0,421.5L709.0,416.5L720.0,411.5Z"/>
<path d="M719.0,315.0L722.0,316.5L724.0,319.0L722.5,319.5L720.0,317.5Z"/>
<path d="M725.0,320.0L728.0,321.5L730.0,323.5L728.5,324.0L726.0,322.3Z"/>
<path d="M730.5,324.5L733.0,326.0L735.0,328.5L733.5,329.0L731.5,326.8Z"/>
<path d="M743.2,339.5L744.2,339.5L745.0,345.0L744.0,345.0Z" stroke="#c8c8c8" stroke-opacity="1"/>
<path d="M734.5,354.0L736.0,353.3L740.5,358.0L739.0,359.0Z" stroke="#c8c8c8" stroke-opacity="1"/>
<path d="M766.0,347.8L769.0,345.8L772.0,344.5L772.5,345.5L769.5,347.2L767.0,349.0Z" stroke="#c8c8c8" stroke-opacity="1"/>
<path d="M492.6,353.0L493.6,353.0L493.6,354.2L492.6,354.2Z"/>
<path d="M2.2,242.6L3.2,242.6L3.2,243.6L2.2,243.6Z"/>
<path d="M5.0,245.0L6.4,245.4L6.6,246.6L5.2,246.2Z"/>
<path d="M7.2,247.0L8.4,247.4L8.4,248.4L7.2,248.0Z"/>
<path d="M128.0,124.0L104.0,145.0L106.0,147.0L110.0,150.0L113.0,157.0L114.0,168.0"/>
<path d="M114.0,173.0L150.0,173.2L165.0,173.2L171.6,172.7L174.4,174.6L183.9,175.6L189.5,178.9L192.8,183.6L191.9,187.4L188.1,191.6L190.0,192.5L196.1,189.7L199.0,187.4L202.7,186.9L207.5,184.1L215.9,182.6L219.2,178.9L221.6,177.0L224.4,177.5L224.0,181.7"/>
<path d="M106.0,215.0L114.0,216.0L125.0,218.0L132.0,222.0L138.0,224.0L142.0,232.0L144.0,235.0"/>
<path d="M181.7,296.7L187.5,300.8L190.0,303.3L186.7,308.3L180.8,313.3L177.5,311.7"/>
<path d="M201.7,311.7L195.8,314.2L193.3,320.0L195.8,325.8L200.8,327.5L203.3,330.8L205.0,336.7L204.2,343.3L205.0,348.3"/>
<path d="M203.3,330.8L210.0,327.5L213.3,327.5L214.2,332.5L223.3,336.7L225.8,341.7L230.0,343.3L231.7,348.3L232.5,352.5"/>
<path d="M232.5,352.5L227.5,351.7L222.5,354.2L221.7,358.3L215.0,359.2L210.8,360.8L207.5,355.8L205.0,348.3"/>
<path d="M224.2,280.0L229.2,285.0L230.0,290.0L229.2,295.0L225.8,297.5L224.2,291.7L223.3,288.3"/>
<path d="M230.0,285.8L237.5,285.8L238.3,293.3L234.2,295.8L229.2,295.0"/>
<path d="M540.0,174.0L546.0,170.0L558.0,170.0L560.0,167.0L570.0,169.0L580.0,172.0L590.0,171.0L598.0,170.0L602.0,176.0L608.0,178.0L604.0,181.0L598.0,184.0L590.0,190.0L584.0,192.0L574.0,190.0L564.0,189.0L558.0,185.0L550.0,183.0L546.0,178.0L540.0,174.0"/>
<path d="M336.5,261.8L337.8,265.0L335.8,267.6L331.3,268.2"/>
<path d="M324.0,264.0L331.0,263.8"/>
<path d="M330.0,271.5L335.8,269.5L341.7,269.5L343.6,274.0L344.3,274.7L343.0,280.6L343.0,281.2L345.6,288.4"/>
<path d="M333.2,276.0L336.5,274.7L339.0,278.0L339.0,279.3L343.0,281.2"/>
<path d="M339.0,279.3L336.5,282.5"/>
<path d="M337.8,265.0L344.3,267.6L350.0,272.0L350.8,271.5"/>
<path d="M367.0,261.0L359.9,262.4L355.3,266.3L352.7,268.3L350.0,272.0"/>
<path d="M350.8,271.5L351.4,274.0L355.3,274.7L356.6,272.4"/>
<path d="M344.3,274.7L350.0,274.0L351.4,274.0"/>
<path d="M364.4,263.0L368.3,269.5L366.4,272.8"/>
<path d="M369.0,269.5L371.2,272.8"/>
<path d="M369.6,278.6L369.6,284.9"/>
<path d="M396.3,268.2L397.6,274.0L395.6,278.0L398.2,281.9"/>
<path d="M399.5,293.6L398.2,295.5L391.7,294.9L385.2,294.9"/>
<path d="M399.5,294.2L402.1,292.9L404.7,291.6L404.7,299.4L400.8,307.2L396.3,313.7L391.7,314.4L390.4,312.4L388.5,310.5"/>
<path d="M434.0,287.0L434.0,291.0L433.0,298.0L433.0,303.0L431.5,305.0"/>
<path d="M431.0,312.0L431.5,318.0L433.0,322.5"/>
<path d="M391.0,316.0L400.5,316.0L403.0,320.5L409.5,319.0L413.0,321.0L414.5,329.0L418.0,330.5"/>
<path d="M413.0,340.0L413.0,345.0L410.5,349.0"/>
<path d="M434.0,291.0L440.0,290.0"/>
<path d="M444.0,287.0L442.0,296.0L442.0,303.0L433.0,303.0"/>
<path d="M442.0,303.0L449.0,307.0"/>
<path d="M443.0,331.5L449.0,330.5L455.5,328.5"/>
<path d="M425.0,347.0L430.0,341.5L432.0,341.5L437.0,344.0L438.0,347.0L437.0,353.0L434.0,358.5L429.0,358.0"/>
<path d="M444.0,268.0L448.0,264.0L456.0,265.0L460.0,270.0L463.0,274.0L472.0,280.0L465.0,288.0L458.0,291.0L450.0,290.0L444.0,286.0L440.0,280.0L439.0,270.0"/>
<path d="M359.6,187.5L364.2,188.8L369.2,190.4"/>
<path d="M368.8,167.9L371.7,169.2L374.2,171.7L376.7,172.9L379.2,173.8L377.9,177.5L375.8,179.2L376.7,182.5L377.5,185.8L376.7,187.9"/>
<path d="M371.7,164.6L374.2,165.8L375.8,167.9L375.4,170.0L376.7,172.9"/>
<path d="M376.7,161.3L376.3,164.2L375.8,167.9"/>
<path d="M377.9,177.5L381.7,177.9L384.2,177.5"/>
<path d="M389.6,175.0L387.5,172.5L390.8,170.0L391.7,168.3L390.8,160.8"/>
<path d="M384.2,177.5L384.2,179.2L381.7,180.8L379.2,181.3L376.7,182.5"/>
<path d="M384.2,179.2L386.7,178.3"/>
<path d="M393.3,179.6L391.7,181.7"/>
<path d="M390.8,170.0L395.0,170.4L400.0,172.5L397.5,174.2L394.2,174.2"/>
<path d="M400.0,172.5L404.2,171.7L408.3,172.5L410.0,169.2L409.2,164.2L408.3,161.7L405.8,159.8"/>
<path d="M397.5,174.2L400.8,174.6L406.7,173.8L408.3,172.9"/>
<path d="M396.7,175.4L397.5,174.2"/>
<path d="M406.7,173.8L409.2,175.8L405.8,179.2L401.7,180.8L397.5,180.0L395.8,177.9"/>
<path d="M393.3,179.6L397.5,180.0"/>
<path d="M401.7,180.8L405.0,182.9L401.7,184.6L396.7,183.8"/>
<path d="M405.0,182.9L405.8,180.8L405.0,175.0L409.2,175.8L416.7,174.2L420.8,175.8L423.3,180.0L426.3,180.0"/>
<path d="M422.5,185.8L417.5,185.0L412.5,185.4L408.3,184.2L405.8,180.8"/>
<path d="M420.8,175.8L423.3,176.7L425.4,180.4"/>
<path d="M408.3,172.5L410.0,169.2L415.0,168.3L420.0,169.6L424.2,167.5L428.3,167.1L431.7,165.0"/>
<path d="M408.3,161.7L412.5,160.0L414.2,157.5L415.8,155.0"/>
<path d="M404.2,155.8L408.3,155.0L412.5,155.8L415.8,155.0"/>
<path d="M408.3,151.7L411.7,150.8L415.0,151.7"/>
<path d="M421.7,190.0L418.3,191.3L414.2,192.5L410.8,191.7L410.0,188.3L411.7,186.7L408.3,184.2"/>
<path d="M410.8,191.7L407.5,190.4"/>
<path d="M410.8,191.7L410.8,194.2"/>
<path d="M407.5,190.4L406.7,194.2"/>
<path d="M410.0,188.3L407.5,188.8"/>
<path d="M405.8,188.8L403.3,185.8L404.2,182.5L405.0,182.9"/>
<path d="M402.1,188.8L403.3,190.8"/>
<path d="M383.8,151.7L383.8,148.3L385.0,143.3L384.2,140.0L386.7,135.0L390.0,130.0L394.2,125.8L400.0,123.3L402.5,124.2L404.2,130.0L405.0,132.5"/>
<path d="M402.5,124.2L405.8,125.0L408.3,122.1L411.7,122.9L411.7,125.4"/>
<path d="M379.2,160.4L379.7,158.4"/>
<path d="M562.2,234.6L568.6,233.8L570.9,239.3L570.9,245.6"/>
<path d="M562.2,234.6L561.0,238.0L563.8,244.9"/>
<path d="M561.4,227.4L566.2,228.2L570.1,225.9"/>
<path d="M570.1,225.9L572.0,230.0L577.3,232.2"/>
</g>
</svg><svg class="map" width="850" height="600" viewBox="0 0 850 600">
<g stroke="#9a9a9a" stroke-width="0.5">
<rect x="186.5" y="517" width="47" height="11" fill="url(#h)" stroke="#ccc"/>
<rect x="253.5" y="517" width="58.5" height="11" fill="#f0f9e8" stroke="none"/>
<rect x="312" y="517" width="58.5" height="11" fill="#ccebc5" stroke="none"/>
<rect x="370.5" y="517" width="58.5" height="11" fill="#a8ddb5" stroke="none"/>
<rect x="429" y="517" width="58.5" height="11" fill="#7bccc4" stroke="none"/>
<rect x="487.500" y="517" width="58.5" height="11" fill="#4eb3d3" stroke="none"/>
<rect x="546" y="517" width="58.5" height="11" fill="#2b8cbe" stroke="none"/>
<path d="M604.500,517H658.500L663.500,522.500L658.500,528H604.500Z" fill="#08589e" stroke="none"/>
<path d="M253.500,517H604.500M253.500,528H604.500M253.500,517V528" fill="none" stroke="#bbb" stroke-width="0.5"/>
<path d="M210,513V517M253.500,513V528M312,513V528M370.500,513V528M429,513V528M487.500,513V528M546,513V528M604.500,513V528" fill="none" stroke="#8a8a8a" stroke-width="0.5"/>
</g></svg>
<div class="legend">
<span style="left:210px">No data</span><span style="left:254px">0</span><span style="left:312px">0.1</span><span style="left:370.500px">0.25</span><span style="left:429px">0.5</span><span style="left:487.500px">1</span><span style="left:546px">2.5</span><span style="left:604.500px">5</span>
</div>
<div class="foot" style="top:549px"><b>Data source:</b> Global Health Workforce Statistics, WHO, via World Bank (2026)</div>
<div class="foot" style="top:549px;left:auto;right:17px;font-size:13px;letter-spacing:0.02px">OurWorldinData.org/financing-healthcare | CC BY</div>
<div class="foot" style="top:569px"><b>Note:</b> Medical doctors include generalist physicians and specialist medical practitioners.</div>
</body></html>
